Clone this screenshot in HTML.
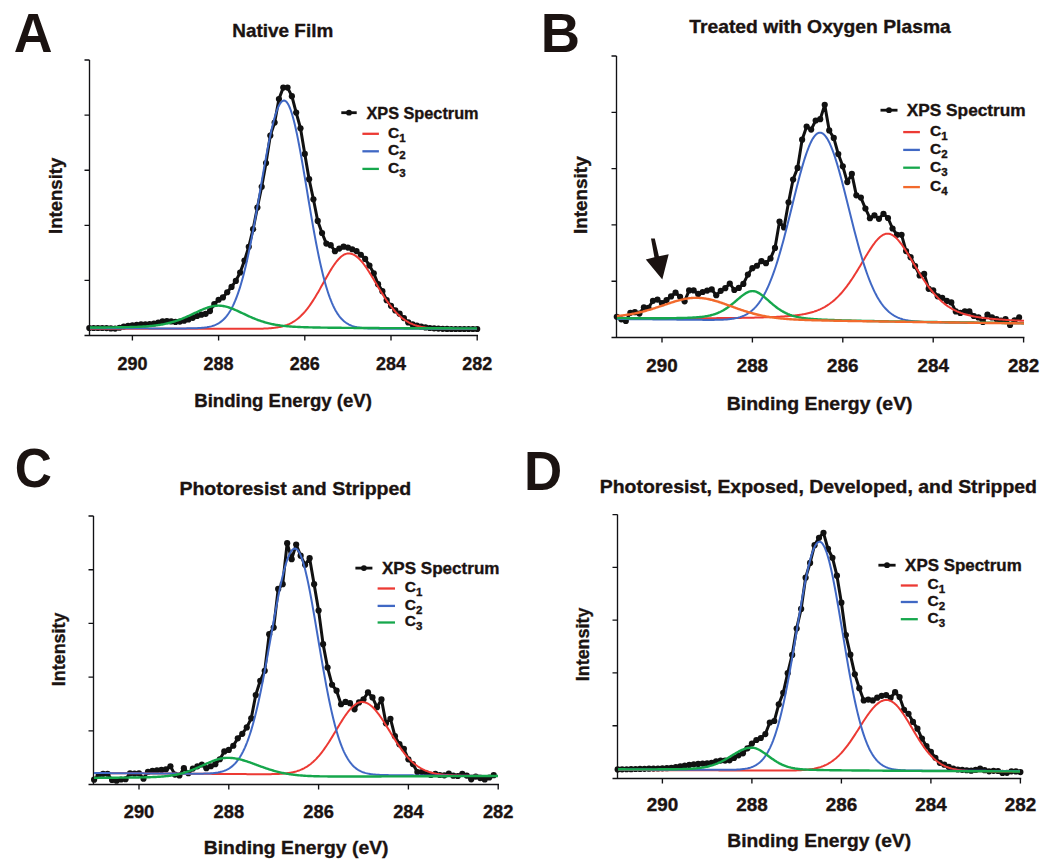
<!DOCTYPE html>
<html><head><meta charset="utf-8"><style>
html,body{margin:0;padding:0;background:#fff;}
svg{display:block;font-family:"Liberation Sans",sans-serif;}
</style></head><body>
<svg width="1050" height="865" viewBox="0 0 1050 865">
<rect width="1050" height="865" fill="#fff"/>
<text transform="translate(13.66 52) scale(0.9664 1)" font-size="55.6" fill="#1b1311" font-weight="bold">A</text>
<text x="232.37" y="37" textLength="100.86" lengthAdjust="spacingAndGlyphs" font-size="19" fill="#1b1311" stroke="#1b1311" stroke-width="0.35" font-weight="bold">Native Film</text>
<path d="M89.5 60V335.5" stroke="#111114" stroke-width="1.35" fill="none"/>
<path d="M84.5 335.5H478" stroke="#111114" stroke-width="1.35" fill="none"/>
<path d="M84.5 60H89.5M84.5 115.1H89.5M84.5 170.2H89.5M84.5 225.3H89.5M84.5 280.4H89.5M132.4 335.5V340.5M218.6 335.5V340.5M304.8 335.5V340.5M391 335.5V340.5M477.2 335.5V340.5" stroke="#111114" stroke-width="1.35" fill="none"/>
<text x="132.4" y="369.6" text-anchor="middle" textLength="30" lengthAdjust="spacingAndGlyphs" font-size="19" fill="#1b1311" stroke="#1b1311" stroke-width="0.35" font-weight="bold">290</text>
<text x="218.6" y="369.6" text-anchor="middle" textLength="30" lengthAdjust="spacingAndGlyphs" font-size="19" fill="#1b1311" stroke="#1b1311" stroke-width="0.35" font-weight="bold">288</text>
<text x="304.8" y="369.6" text-anchor="middle" textLength="30" lengthAdjust="spacingAndGlyphs" font-size="19" fill="#1b1311" stroke="#1b1311" stroke-width="0.35" font-weight="bold">286</text>
<text x="391" y="369.6" text-anchor="middle" textLength="30" lengthAdjust="spacingAndGlyphs" font-size="19" fill="#1b1311" stroke="#1b1311" stroke-width="0.35" font-weight="bold">284</text>
<text x="477.2" y="369.6" text-anchor="middle" textLength="30" lengthAdjust="spacingAndGlyphs" font-size="19" fill="#1b1311" stroke="#1b1311" stroke-width="0.35" font-weight="bold">282</text>
<text x="194.29" y="407" textLength="177.57" lengthAdjust="spacingAndGlyphs" font-size="18.8" fill="#1b1311" stroke="#1b1311" stroke-width="0.35" font-weight="bold">Binding Energy (eV)</text>
<text transform="translate(62 232.8) rotate(-90)" x="-1.21" y="0" textLength="76.34" lengthAdjust="spacingAndGlyphs" font-size="18.5" fill="#1b1311" stroke="#1b1311" stroke-width="0.35" font-weight="bold">Intensity</text>
<polyline points="89.3,328 93.61,328 97.92,328 102.23,328 106.54,328.07 110.85,328.39 115.16,328.6 119.47,327.77 123.78,326.57 128.09,325.84 132.4,325.23 136.71,324.77 141.02,324.47 145.33,324.25 149.64,323.98 153.95,323.48 158.26,322.48 162.57,321.47 166.88,321 171.19,321.38 175.5,321.88 179.81,321.6 184.12,320.63 188.43,319.45 192.74,317.83 197.05,315.99 201.36,314.69 205.67,313.81 209.98,311.04 214.29,304.07 218.6,299.74 222.91,297.44 227.22,292.24 231.53,286.92 235.84,280.91 240.15,272.52 244.46,260.62 248.77,246.81 253.08,229.22 257.39,207.57 261.7,186.81 266.01,163.04 270.32,135.53 274.63,122.55 278.94,99.06 283.25,87.6 287.56,87.6 291.87,96.17 296.18,112.57 300.49,128.27 304.8,153.9 309.11,179.21 313.42,199.3 317.73,220.97 322.04,233.01 326.35,243.62 330.66,245.16 334.97,251.2 339.28,248.58 343.59,246.72 347.9,247.61 352.21,249.24 356.52,251.04 360.83,254.75 365.14,258.94 369.45,265.57 373.76,273.27 378.07,284.16 382.38,291.14 386.69,300.19 391,305.86 395.31,310.45 399.62,313.71 403.93,318.09 408.24,322.43 412.55,324.42 416.86,325.72 421.17,326.7 425.48,327.47 429.79,327.98 434.1,328.32 438.41,328.61 442.72,328.83 447.03,328.97 451.34,329 455.65,329 459.96,329 464.27,329 468.58,329 472.89,329 477.2,329" fill="none" stroke="#111111" stroke-width="3.0" stroke-linejoin="round"/>
<g fill="#111111"><circle cx="89.3" cy="328" r="3.1"/><circle cx="93.61" cy="328" r="3.1"/><circle cx="97.92" cy="328" r="3.1"/><circle cx="102.23" cy="328" r="3.1"/><circle cx="106.54" cy="328.07" r="3.1"/><circle cx="110.85" cy="328.39" r="3.1"/><circle cx="115.16" cy="328.6" r="3.1"/><circle cx="119.47" cy="327.77" r="3.1"/><circle cx="123.78" cy="326.57" r="3.1"/><circle cx="128.09" cy="325.84" r="3.1"/><circle cx="132.4" cy="325.23" r="3.1"/><circle cx="136.71" cy="324.77" r="3.1"/><circle cx="141.02" cy="324.47" r="3.1"/><circle cx="145.33" cy="324.25" r="3.1"/><circle cx="149.64" cy="323.98" r="3.1"/><circle cx="153.95" cy="323.48" r="3.1"/><circle cx="158.26" cy="322.48" r="3.1"/><circle cx="162.57" cy="321.47" r="3.1"/><circle cx="166.88" cy="321" r="3.1"/><circle cx="171.19" cy="321.38" r="3.1"/><circle cx="175.5" cy="321.88" r="3.1"/><circle cx="179.81" cy="321.6" r="3.1"/><circle cx="184.12" cy="320.63" r="3.1"/><circle cx="188.43" cy="319.45" r="3.1"/><circle cx="192.74" cy="317.83" r="3.1"/><circle cx="197.05" cy="315.99" r="3.1"/><circle cx="201.36" cy="314.69" r="3.1"/><circle cx="205.67" cy="313.81" r="3.1"/><circle cx="209.98" cy="311.04" r="3.1"/><circle cx="214.29" cy="304.07" r="3.1"/><circle cx="218.6" cy="299.74" r="3.1"/><circle cx="222.91" cy="297.44" r="3.1"/><circle cx="227.22" cy="292.24" r="3.1"/><circle cx="231.53" cy="286.92" r="3.1"/><circle cx="235.84" cy="280.91" r="3.1"/><circle cx="240.15" cy="272.52" r="3.1"/><circle cx="244.46" cy="260.62" r="3.1"/><circle cx="248.77" cy="246.81" r="3.1"/><circle cx="253.08" cy="229.22" r="3.1"/><circle cx="257.39" cy="207.57" r="3.1"/><circle cx="261.7" cy="186.81" r="3.1"/><circle cx="266.01" cy="163.04" r="3.1"/><circle cx="270.32" cy="135.53" r="3.1"/><circle cx="274.63" cy="122.55" r="3.1"/><circle cx="278.94" cy="99.06" r="3.1"/><circle cx="283.25" cy="87.6" r="3.1"/><circle cx="287.56" cy="87.6" r="3.1"/><circle cx="291.87" cy="96.17" r="3.1"/><circle cx="296.18" cy="112.57" r="3.1"/><circle cx="300.49" cy="128.27" r="3.1"/><circle cx="304.8" cy="153.9" r="3.1"/><circle cx="309.11" cy="179.21" r="3.1"/><circle cx="313.42" cy="199.3" r="3.1"/><circle cx="317.73" cy="220.97" r="3.1"/><circle cx="322.04" cy="233.01" r="3.1"/><circle cx="326.35" cy="243.62" r="3.1"/><circle cx="330.66" cy="245.16" r="3.1"/><circle cx="334.97" cy="251.2" r="3.1"/><circle cx="339.28" cy="248.58" r="3.1"/><circle cx="343.59" cy="246.72" r="3.1"/><circle cx="347.9" cy="247.61" r="3.1"/><circle cx="352.21" cy="249.24" r="3.1"/><circle cx="356.52" cy="251.04" r="3.1"/><circle cx="360.83" cy="254.75" r="3.1"/><circle cx="365.14" cy="258.94" r="3.1"/><circle cx="369.45" cy="265.57" r="3.1"/><circle cx="373.76" cy="273.27" r="3.1"/><circle cx="378.07" cy="284.16" r="3.1"/><circle cx="382.38" cy="291.14" r="3.1"/><circle cx="386.69" cy="300.19" r="3.1"/><circle cx="391" cy="305.86" r="3.1"/><circle cx="395.31" cy="310.45" r="3.1"/><circle cx="399.62" cy="313.71" r="3.1"/><circle cx="403.93" cy="318.09" r="3.1"/><circle cx="408.24" cy="322.43" r="3.1"/><circle cx="412.55" cy="324.42" r="3.1"/><circle cx="416.86" cy="325.72" r="3.1"/><circle cx="421.17" cy="326.7" r="3.1"/><circle cx="425.48" cy="327.47" r="3.1"/><circle cx="429.79" cy="327.98" r="3.1"/><circle cx="434.1" cy="328.32" r="3.1"/><circle cx="438.41" cy="328.61" r="3.1"/><circle cx="442.72" cy="328.83" r="3.1"/><circle cx="447.03" cy="328.97" r="3.1"/><circle cx="451.34" cy="329" r="3.1"/><circle cx="455.65" cy="329" r="3.1"/><circle cx="459.96" cy="329" r="3.1"/><circle cx="464.27" cy="329" r="3.1"/><circle cx="468.58" cy="329" r="3.1"/><circle cx="472.89" cy="329" r="3.1"/><circle cx="477.2" cy="329" r="3.1"/></g>
<polyline points="90,328.8 91,328.8 92,328.8 93,328.8 94,328.8 95,328.8 96,328.8 97,328.8 98,328.8 99,328.8 100,328.81 101,328.81 102,328.81 103,328.81 104,328.81 105,328.81 106,328.81 107,328.81 108,328.81 109,328.81 110,328.81 111,328.81 112,328.81 113,328.81 114,328.81 115,328.81 116,328.81 117,328.81 118,328.81 119,328.81 120,328.82 121,328.82 122,328.82 123,328.82 124,328.82 125,328.82 126,328.82 127,328.82 128,328.82 129,328.82 130,328.82 131,328.82 132,328.82 133,328.82 134,328.82 135,328.82 136,328.82 137,328.82 138,328.82 139,328.83 140,328.83 141,328.83 142,328.83 143,328.83 144,328.83 145,328.83 146,328.83 147,328.83 148,328.83 149,328.83 150,328.83 151,328.83 152,328.83 153,328.83 154,328.83 155,328.83 156,328.83 157,328.83 158,328.84 159,328.84 160,328.84 161,328.84 162,328.84 163,328.84 164,328.84 165,328.84 166,328.84 167,328.84 168,328.84 169,328.84 170,328.84 171,328.84 172,328.84 173,328.84 174,328.84 175,328.84 176,328.84 177,328.84 178,328.85 179,328.85 180,328.85 181,328.85 182,328.85 183,328.85 184,328.85 185,328.85 186,328.85 187,328.85 188,328.85 189,328.85 190,328.85 191,328.85 192,328.85 193,328.85 194,328.85 195,328.85 196,328.85 197,328.86 198,328.86 199,328.86 200,328.86 201,328.86 202,328.86 203,328.86 204,328.86 205,328.86 206,328.86 207,328.86 208,328.86 209,328.86 210,328.86 211,328.86 212,328.86 213,328.86 214,328.86 215,328.86 216,328.87 217,328.87 218,328.87 219,328.87 220,328.87 221,328.87 222,328.87 223,328.87 224,328.87 225,328.87 226,328.87 227,328.87 228,328.87 229,328.87 230,328.87 231,328.87 232,328.87 233,328.87 234,328.87 235,328.87 236,328.87 237,328.87 238,328.87 239,328.87 240,328.87 241,328.87 242,328.87 243,328.87 244,328.86 245,328.86 246,328.86 247,328.85 248,328.85 249,328.85 250,328.84 251,328.83 252,328.83 253,328.82 254,328.81 255,328.8 256,328.78 257,328.77 258,328.75 259,328.73 260,328.71 261,328.69 262,328.66 263,328.63 264,328.59 265,328.55 266,328.5 267,328.45 268,328.39 269,328.33 270,328.25 271,328.17 272,328.08 273,327.98 274,327.87 275,327.74 276,327.61 277,327.46 278,327.29 279,327.11 280,326.91 281,326.69 282,326.45 283,326.18 284,325.9 285,325.58 286,325.25 287,324.88 288,324.48 289,324.05 290,323.59 291,323.09 292,322.56 293,321.98 294,321.37 295,320.71 296,320.01 297,319.27 298,318.48 299,317.64 300,316.76 301,315.82 302,314.83 303,313.8 304,312.71 305,311.57 306,310.37 307,309.13 308,307.83 309,306.49 310,305.09 311,303.65 312,302.16 313,300.62 314,299.05 315,297.43 316,295.78 317,294.1 318,292.38 319,290.64 320,288.88 321,287.11 322,285.32 323,283.52 324,281.73 325,279.94 326,278.15 327,276.39 328,274.64 329,272.93 330,271.25 331,269.61 332,268.02 333,266.48 334,265 335,263.59 336,262.25 337,260.98 338,259.8 339,258.71 340,257.7 341,256.8 342,256 343,255.3 344,254.7 345,254.22 346,253.86 347,253.6 348,253.46 349,253.44 350,253.52 351,253.7 352,253.99 353,254.37 354,254.86 355,255.44 356,256.11 357,256.88 358,257.73 359,258.67 360,259.69 361,260.79 362,261.96 363,263.2 364,264.51 365,265.87 366,267.29 367,268.76 368,270.27 369,271.82 370,273.41 371,275.02 372,276.66 373,278.32 374,279.99 375,281.67 376,283.36 377,285.04 378,286.72 379,288.39 380,290.05 381,291.69 382,293.31 383,294.9 384,296.47 385,298.01 386,299.51 387,300.98 388,302.41 389,303.81 390,305.16 391,306.47 392,307.73 393,308.96 394,310.13 395,311.27 396,312.35 397,313.39 398,314.39 399,315.34 400,316.25 401,317.11 402,317.93 403,318.7 404,319.44 405,320.13 406,320.78 407,321.4 408,321.98 409,322.52 410,323.03 411,323.51 412,323.95 413,324.37 414,324.76 415,325.12 416,325.45 417,325.76 418,326.04 419,326.31 420,326.55 421,326.78 422,326.98 423,327.17 424,327.35 425,327.51 426,327.65 427,327.78 428,327.9 429,328.01 430,328.11 431,328.21 432,328.29 433,328.36 434,328.43 435,328.49 436,328.54 437,328.59 438,328.64 439,328.68 440,328.71 441,328.75 442,328.77 443,328.8 444,328.82 445,328.84 446,328.86 447,328.88 448,328.89 449,328.9 450,328.91 451,328.92 452,328.93 453,328.94 454,328.95 455,328.95 456,328.96 457,328.96 458,328.97 459,328.97 460,328.97 461,328.98 462,328.98 463,328.98 464,328.98 465,328.99 466,328.99 467,328.99 468,328.99 469,328.99 470,328.99 471,328.99 472,328.99 473,329 474,329 475,329 476,329 477,329" fill="none" stroke="#ec3a34" stroke-width="2.0" stroke-linejoin="round"/>
<polyline points="90,328.3 91,328.3 92,328.3 93,328.3 94,328.31 95,328.31 96,328.31 97,328.31 98,328.31 99,328.31 100,328.31 101,328.31 102,328.32 103,328.32 104,328.32 105,328.32 106,328.32 107,328.32 108,328.32 109,328.32 110,328.33 111,328.33 112,328.33 113,328.33 114,328.33 115,328.33 116,328.33 117,328.33 118,328.34 119,328.34 120,328.34 121,328.34 122,328.34 123,328.34 124,328.34 125,328.35 126,328.35 127,328.35 128,328.35 129,328.35 130,328.35 131,328.35 132,328.35 133,328.36 134,328.36 135,328.36 136,328.36 137,328.36 138,328.36 139,328.36 140,328.36 141,328.37 142,328.37 143,328.37 144,328.37 145,328.37 146,328.37 147,328.37 148,328.37 149,328.38 150,328.38 151,328.38 152,328.38 153,328.38 154,328.38 155,328.38 156,328.39 157,328.39 158,328.39 159,328.39 160,328.39 161,328.39 162,328.39 163,328.39 164,328.39 165,328.4 166,328.4 167,328.4 168,328.4 169,328.4 170,328.4 171,328.4 172,328.4 173,328.4 174,328.4 175,328.4 176,328.4 177,328.4 178,328.4 179,328.4 180,328.4 181,328.4 182,328.4 183,328.39 184,328.39 185,328.38 186,328.38 187,328.37 188,328.36 189,328.35 190,328.34 191,328.32 192,328.3 193,328.28 194,328.26 195,328.23 196,328.19 197,328.16 198,328.11 199,328.06 200,328 201,327.93 202,327.85 203,327.76 204,327.65 205,327.53 206,327.4 207,327.25 208,327.07 209,326.88 210,326.65 211,326.41 212,326.13 213,325.81 214,325.46 215,325.07 216,324.64 217,324.16 218,323.62 219,323.03 220,322.37 221,321.65 222,320.85 223,319.98 224,319.02 225,317.97 226,316.83 227,315.58 228,314.23 229,312.76 230,311.17 231,309.46 232,307.61 233,305.62 234,303.48 235,301.2 236,298.75 237,296.15 238,293.38 239,290.44 240,287.32 241,284.03 242,280.57 243,276.92 244,273.09 245,269.08 246,264.9 247,260.54 248,256.01 249,251.31 250,246.46 251,241.45 252,236.3 253,231.02 254,225.62 255,220.12 256,214.51 257,208.84 258,203.1 259,197.31 260,191.5 261,185.69 262,179.9 263,174.14 264,168.44 265,162.83 266,157.32 267,151.94 268,146.71 269,141.66 270,136.81 271,132.18 272,127.79 273,123.67 274,119.83 275,116.3 276,113.08 277,110.21 278,107.69 279,105.53 280,103.75 281,102.35 282,101.35 283,100.75 284,100.55 285,100.77 286,101.42 287,102.5 288,104 289,105.91 290,108.23 291,110.94 292,114.02 293,117.46 294,121.24 295,125.34 296,129.74 297,134.41 298,139.33 299,144.48 300,149.83 301,155.35 302,161.02 303,166.82 304,172.71 305,178.67 306,184.67 307,190.7 308,196.73 309,202.73 310,208.69 311,214.59 312,220.4 313,226.1 314,231.7 315,237.16 316,242.47 317,247.64 318,252.64 319,257.46 320,262.11 321,266.56 322,270.84 323,274.92 324,278.8 325,282.49 326,285.99 327,289.3 328,292.43 329,295.36 330,298.12 331,300.7 332,303.11 333,305.36 334,307.45 335,309.39 336,311.19 337,312.84 338,314.37 339,315.77 340,317.06 341,318.24 342,319.32 343,320.3 344,321.19 345,322 346,322.73 347,323.4 348,323.99 349,324.53 350,325.01 351,325.44 352,325.83 353,326.17 354,326.48 355,326.75 356,326.99 357,327.21 358,327.4 359,327.56 360,327.71 361,327.84 362,327.95 363,328.05 364,328.14 365,328.21 366,328.28 367,328.33 368,328.38 369,328.42 370,328.46 371,328.49 372,328.52 373,328.54 374,328.56 375,328.58 376,328.6 377,328.61 378,328.62 379,328.63 380,328.64 381,328.65 382,328.65 383,328.66 384,328.66 385,328.67 386,328.67 387,328.67 388,328.68 389,328.68 390,328.68 391,328.68 392,328.69 393,328.69 394,328.69 395,328.69 396,328.69 397,328.7 398,328.7 399,328.7 400,328.7 401,328.7 402,328.7 403,328.7 404,328.71 405,328.71 406,328.71 407,328.71 408,328.71 409,328.71 410,328.71 411,328.71 412,328.72 413,328.72 414,328.72 415,328.72 416,328.72 417,328.72 418,328.72 419,328.73 420,328.73 421,328.73 422,328.73 423,328.73 424,328.73 425,328.73 426,328.73 427,328.74 428,328.74 429,328.74 430,328.74 431,328.74 432,328.74 433,328.74 434,328.74 435,328.75 436,328.75 437,328.75 438,328.75 439,328.75 440,328.75 441,328.75 442,328.75 443,328.76 444,328.76 445,328.76 446,328.76 447,328.76 448,328.76 449,328.76 450,328.77 451,328.77 452,328.77 453,328.77 454,328.77 455,328.77 456,328.77 457,328.77 458,328.78 459,328.78 460,328.78 461,328.78 462,328.78 463,328.78 464,328.78 465,328.78 466,328.79 467,328.79 468,328.79 469,328.79 470,328.79 471,328.79 472,328.79 473,328.79 474,328.8 475,328.8 476,328.8 477,328.8" fill="none" stroke="#4068c4" stroke-width="2.0" stroke-linejoin="round"/>
<polyline points="90,327.54 91,327.53 92,327.53 93,327.52 94,327.52 95,327.51 96,327.5 97,327.5 98,327.49 99,327.48 100,327.48 101,327.47 102,327.46 103,327.45 104,327.45 105,327.44 106,327.43 107,327.42 108,327.41 109,327.4 110,327.39 111,327.38 112,327.37 113,327.36 114,327.35 115,327.33 116,327.32 117,327.31 118,327.3 119,327.28 120,327.27 121,327.25 122,327.23 123,327.22 124,327.2 125,327.18 126,327.16 127,327.14 128,327.12 129,327.09 130,327.07 131,327.04 132,327.01 133,326.98 134,326.95 135,326.92 136,326.88 137,326.85 138,326.81 139,326.76 140,326.72 141,326.67 142,326.62 143,326.56 144,326.5 145,326.44 146,326.37 147,326.3 148,326.22 149,326.14 150,326.06 151,325.96 152,325.87 153,325.76 154,325.65 155,325.53 156,325.41 157,325.28 158,325.14 159,324.99 160,324.83 161,324.67 162,324.5 163,324.31 164,324.12 165,323.91 166,323.7 167,323.48 168,323.24 169,323 170,322.74 171,322.47 172,322.19 173,321.9 174,321.6 175,321.28 176,320.96 177,320.62 178,320.27 179,319.91 180,319.54 181,319.15 182,318.76 183,318.36 184,317.95 185,317.52 186,317.09 187,316.65 188,316.21 189,315.76 190,315.3 191,314.84 192,314.37 193,313.9 194,313.43 195,312.96 196,312.49 197,312.02 198,311.55 199,311.09 200,310.64 201,310.19 202,309.76 203,309.34 204,308.93 205,308.54 206,308.16 207,307.8 208,307.47 209,307.16 210,306.87 211,306.61 212,306.38 213,306.18 214,306.01 215,305.88 216,305.77 217,305.7 218,305.67 219,305.67 220,305.71 221,305.78 222,305.88 223,306.02 224,306.2 225,306.4 226,306.63 227,306.89 228,307.18 229,307.5 230,307.83 231,308.19 232,308.57 233,308.97 234,309.38 235,309.8 236,310.24 237,310.69 238,311.14 239,311.6 240,312.07 241,312.54 242,313.02 243,313.49 244,313.96 245,314.44 246,314.91 247,315.37 248,315.83 249,316.29 250,316.74 251,317.18 252,317.61 253,318.03 254,318.45 255,318.86 256,319.25 257,319.64 258,320.01 259,320.37 260,320.73 261,321.07 262,321.39 263,321.71 264,322.02 265,322.31 266,322.59 267,322.86 268,323.12 269,323.37 270,323.61 271,323.84 272,324.05 273,324.26 274,324.45 275,324.64 276,324.82 277,324.99 278,325.14 279,325.3 280,325.44 281,325.57 282,325.7 283,325.82 284,325.93 285,326.04 286,326.14 287,326.23 288,326.32 289,326.41 290,326.48 291,326.56 292,326.63 293,326.69 294,326.76 295,326.81 296,326.87 297,326.92 298,326.97 299,327.01 300,327.06 301,327.1 302,327.13 303,327.17 304,327.21 305,327.24 306,327.27 307,327.3 308,327.32 309,327.35 310,327.38 311,327.4 312,327.42 313,327.44 314,327.46 315,327.48 316,327.5 317,327.52 318,327.54 319,327.56 320,327.57 321,327.59 322,327.6 323,327.62 324,327.63 325,327.64 326,327.66 327,327.67 328,327.68 329,327.7 330,327.71 331,327.72 332,327.73 333,327.74 334,327.75 335,327.76 336,327.77 337,327.78 338,327.79 339,327.8 340,327.81 341,327.82 342,327.83 343,327.84 344,327.85 345,327.86 346,327.86 347,327.87 348,327.88 349,327.89 350,327.9 351,327.9 352,327.91 353,327.92 354,327.93 355,327.93 356,327.94 357,327.95 358,327.95 359,327.96 360,327.97 361,327.97 362,327.98 363,327.98 364,327.99 365,328 366,328 367,328.01 368,328.01 369,328.02 370,328.03 371,328.03 372,328.04 373,328.04 374,328.05 375,328.05 376,328.06 377,328.06 378,328.07 379,328.07 380,328.08 381,328.08 382,328.09 383,328.09 384,328.1 385,328.1 386,328.11 387,328.11 388,328.11 389,328.12 390,328.12 391,328.13 392,328.13 393,328.14 394,328.14 395,328.14 396,328.15 397,328.15 398,328.16 399,328.16 400,328.16 401,328.17 402,328.17 403,328.17 404,328.18 405,328.18 406,328.19 407,328.19 408,328.19 409,328.2 410,328.2 411,328.2 412,328.21 413,328.21 414,328.21 415,328.22 416,328.22 417,328.22 418,328.23 419,328.23 420,328.23 421,328.24 422,328.24 423,328.24 424,328.25 425,328.25 426,328.25 427,328.25 428,328.26 429,328.26 430,328.26 431,328.27 432,328.27 433,328.27 434,328.27 435,328.28 436,328.28 437,328.28 438,328.29 439,328.29 440,328.29 441,328.29 442,328.3 443,328.3 444,328.3 445,328.3 446,328.31 447,328.31 448,328.31 449,328.31 450,328.32 451,328.32 452,328.32 453,328.33 454,328.33 455,328.33 456,328.33 457,328.33 458,328.34 459,328.34 460,328.34 461,328.34 462,328.35 463,328.35 464,328.35 465,328.35 466,328.36 467,328.36 468,328.36 469,328.36 470,328.37 471,328.37 472,328.37 473,328.37 474,328.37 475,328.38 476,328.38 477,328.38" fill="none" stroke="#16a74c" stroke-width="2.4" stroke-linejoin="round"/>
<path d="M341.3 112.7H356.7" stroke="#111111" stroke-width="2.8"/><circle cx="349" cy="112.7" r="2.9" fill="#111111"/>
<text x="366.44" y="118.9" textLength="112.14" lengthAdjust="spacingAndGlyphs" font-size="16.5" fill="#1b1311" stroke="#1b1311" stroke-width="0.35" font-weight="bold">XPS Spectrum</text>
<path d="M362.4 133.8H378.9" stroke="#ec3a34" stroke-width="2.3"/>
<text x="388" y="137.7" font-size="15.5" fill="#1b1311" stroke="#1b1311" stroke-width="0.35" font-weight="bold">C<tspan dy="4.0" font-size="11.5">1</tspan></text>
<path d="M362.4 151.3H378.9" stroke="#4068c4" stroke-width="2.3"/>
<text x="388" y="155.2" font-size="15.5" fill="#1b1311" stroke="#1b1311" stroke-width="0.35" font-weight="bold">C<tspan dy="4.0" font-size="11.5">2</tspan></text>
<path d="M362.4 168.9H378.9" stroke="#16a74c" stroke-width="2.3"/>
<text x="388" y="172.8" font-size="15.5" fill="#1b1311" stroke="#1b1311" stroke-width="0.35" font-weight="bold">C<tspan dy="4.0" font-size="11.5">3</tspan></text>
<text transform="translate(540.73 52.4) scale(0.9719 1)" font-size="56" fill="#1b1311" font-weight="bold">B</text>
<text x="689.21" y="32.6" textLength="261.62" lengthAdjust="spacingAndGlyphs" font-size="19" fill="#1b1311" stroke="#1b1311" stroke-width="0.35" font-weight="bold">Treated with Oxygen Plasma</text>
<path d="M616.5 56V337.5" stroke="#111114" stroke-width="1.35" fill="none"/>
<path d="M611.5 337.5H1024.4" stroke="#111114" stroke-width="1.35" fill="none"/>
<path d="M611.5 56H616.5M611.5 112.3H616.5M611.5 168.6H616.5M611.5 224.9H616.5M611.5 281.2H616.5M662 337.5V342.5M752.4 337.5V342.5M842.8 337.5V342.5M933.2 337.5V342.5M1023.6 337.5V342.5" stroke="#111114" stroke-width="1.35" fill="none"/>
<text x="662" y="372" text-anchor="middle" textLength="31.4" lengthAdjust="spacingAndGlyphs" font-size="19" fill="#1b1311" stroke="#1b1311" stroke-width="0.35" font-weight="bold">290</text>
<text x="752.4" y="372" text-anchor="middle" textLength="31.4" lengthAdjust="spacingAndGlyphs" font-size="19" fill="#1b1311" stroke="#1b1311" stroke-width="0.35" font-weight="bold">288</text>
<text x="842.8" y="372" text-anchor="middle" textLength="31.4" lengthAdjust="spacingAndGlyphs" font-size="19" fill="#1b1311" stroke="#1b1311" stroke-width="0.35" font-weight="bold">286</text>
<text x="933.2" y="372" text-anchor="middle" textLength="31.4" lengthAdjust="spacingAndGlyphs" font-size="19" fill="#1b1311" stroke="#1b1311" stroke-width="0.35" font-weight="bold">284</text>
<text x="1023.6" y="372" text-anchor="middle" textLength="31.4" lengthAdjust="spacingAndGlyphs" font-size="19" fill="#1b1311" stroke="#1b1311" stroke-width="0.35" font-weight="bold">282</text>
<text x="726.74" y="410" textLength="185.87" lengthAdjust="spacingAndGlyphs" font-size="18.8" fill="#1b1311" stroke="#1b1311" stroke-width="0.35" font-weight="bold">Binding Energy (eV)</text>
<text transform="translate(587.3 232.8) rotate(-90)" x="-1.23" y="0" textLength="77.66" lengthAdjust="spacingAndGlyphs" font-size="18.5" fill="#1b1311" stroke="#1b1311" stroke-width="0.35" font-weight="bold">Intensity</text>
<polyline points="616.8,316.76 621.32,319.31 625.84,320.93 630.36,312.82 634.88,312.18 639.4,313.58 643.92,307.33 648.44,307.8 652.96,300.79 657.48,299.62 662,303.19 666.52,300.03 671.04,296.4 675.56,292.72 680.08,296.79 684.6,301.34 689.12,290.41 693.64,290.43 698.16,293.9 702.68,292.01 707.2,290.53 711.72,289.44 716.24,295.27 720.76,290.81 725.28,288.13 729.8,283.51 734.32,289.99 738.84,287.92 743.36,283.92 747.88,274.53 752.4,268.18 756.92,265.75 761.44,261.1 765.96,263.15 770.48,258.43 775,247.96 779.52,221.6 784.04,227.52 788.56,202.24 793.08,179.48 797.6,167.9 802.12,139.66 806.64,126.61 811.16,129.57 815.68,120.51 820.2,119.21 824.72,104.87 829.24,130.46 833.76,137.92 838.28,154.05 842.8,166.33 847.32,182.08 851.84,173.88 856.36,195.34 860.88,197.57 865.4,208.48 869.92,218.24 874.44,215.33 878.96,218.87 883.48,213.84 888,218.02 892.52,228.48 897.04,234.79 901.56,234.8 906.08,251.04 910.6,257.14 915.12,266.04 919.64,275.38 924.16,273.9 928.68,288.8 933.2,290.35 937.72,296.35 942.24,297.87 946.76,300.88 951.28,302.39 955.8,311.4 960.32,312.9 964.84,311.4 969.36,311.4 973.88,315.99 978.4,317.4 982.92,322 987.44,314.5 991.96,317.43 996.48,319.03 1001,320.5 1005.52,319.01 1010.04,324.99 1014.56,320.45 1019.08,317.4" fill="none" stroke="#111111" stroke-width="3.0" stroke-linejoin="round"/>
<g fill="#111111"><circle cx="616.8" cy="316.76" r="3.1"/><circle cx="621.32" cy="319.31" r="3.1"/><circle cx="625.84" cy="320.93" r="3.1"/><circle cx="630.36" cy="312.82" r="3.1"/><circle cx="634.88" cy="312.18" r="3.1"/><circle cx="639.4" cy="313.58" r="3.1"/><circle cx="643.92" cy="307.33" r="3.1"/><circle cx="648.44" cy="307.8" r="3.1"/><circle cx="652.96" cy="300.79" r="3.1"/><circle cx="657.48" cy="299.62" r="3.1"/><circle cx="662" cy="303.19" r="3.1"/><circle cx="666.52" cy="300.03" r="3.1"/><circle cx="671.04" cy="296.4" r="3.1"/><circle cx="675.56" cy="292.72" r="3.1"/><circle cx="680.08" cy="296.79" r="3.1"/><circle cx="684.6" cy="301.34" r="3.1"/><circle cx="689.12" cy="290.41" r="3.1"/><circle cx="693.64" cy="290.43" r="3.1"/><circle cx="698.16" cy="293.9" r="3.1"/><circle cx="702.68" cy="292.01" r="3.1"/><circle cx="707.2" cy="290.53" r="3.1"/><circle cx="711.72" cy="289.44" r="3.1"/><circle cx="716.24" cy="295.27" r="3.1"/><circle cx="720.76" cy="290.81" r="3.1"/><circle cx="725.28" cy="288.13" r="3.1"/><circle cx="729.8" cy="283.51" r="3.1"/><circle cx="734.32" cy="289.99" r="3.1"/><circle cx="738.84" cy="287.92" r="3.1"/><circle cx="743.36" cy="283.92" r="3.1"/><circle cx="747.88" cy="274.53" r="3.1"/><circle cx="752.4" cy="268.18" r="3.1"/><circle cx="756.92" cy="265.75" r="3.1"/><circle cx="761.44" cy="261.1" r="3.1"/><circle cx="765.96" cy="263.15" r="3.1"/><circle cx="770.48" cy="258.43" r="3.1"/><circle cx="775" cy="247.96" r="3.1"/><circle cx="779.52" cy="221.6" r="3.1"/><circle cx="784.04" cy="227.52" r="3.1"/><circle cx="788.56" cy="202.24" r="3.1"/><circle cx="793.08" cy="179.48" r="3.1"/><circle cx="797.6" cy="167.9" r="3.1"/><circle cx="802.12" cy="139.66" r="3.1"/><circle cx="806.64" cy="126.61" r="3.1"/><circle cx="811.16" cy="129.57" r="3.1"/><circle cx="815.68" cy="120.51" r="3.1"/><circle cx="820.2" cy="119.21" r="3.1"/><circle cx="824.72" cy="104.87" r="3.1"/><circle cx="829.24" cy="130.46" r="3.1"/><circle cx="833.76" cy="137.92" r="3.1"/><circle cx="838.28" cy="154.05" r="3.1"/><circle cx="842.8" cy="166.33" r="3.1"/><circle cx="847.32" cy="182.08" r="3.1"/><circle cx="851.84" cy="173.88" r="3.1"/><circle cx="856.36" cy="195.34" r="3.1"/><circle cx="860.88" cy="197.57" r="3.1"/><circle cx="865.4" cy="208.48" r="3.1"/><circle cx="869.92" cy="218.24" r="3.1"/><circle cx="874.44" cy="215.33" r="3.1"/><circle cx="878.96" cy="218.87" r="3.1"/><circle cx="883.48" cy="213.84" r="3.1"/><circle cx="888" cy="218.02" r="3.1"/><circle cx="892.52" cy="228.48" r="3.1"/><circle cx="897.04" cy="234.79" r="3.1"/><circle cx="901.56" cy="234.8" r="3.1"/><circle cx="906.08" cy="251.04" r="3.1"/><circle cx="910.6" cy="257.14" r="3.1"/><circle cx="915.12" cy="266.04" r="3.1"/><circle cx="919.64" cy="275.38" r="3.1"/><circle cx="924.16" cy="273.9" r="3.1"/><circle cx="928.68" cy="288.8" r="3.1"/><circle cx="933.2" cy="290.35" r="3.1"/><circle cx="937.72" cy="296.35" r="3.1"/><circle cx="942.24" cy="297.87" r="3.1"/><circle cx="946.76" cy="300.88" r="3.1"/><circle cx="951.28" cy="302.39" r="3.1"/><circle cx="955.8" cy="311.4" r="3.1"/><circle cx="960.32" cy="312.9" r="3.1"/><circle cx="964.84" cy="311.4" r="3.1"/><circle cx="969.36" cy="311.4" r="3.1"/><circle cx="973.88" cy="315.99" r="3.1"/><circle cx="978.4" cy="317.4" r="3.1"/><circle cx="982.92" cy="322" r="3.1"/><circle cx="987.44" cy="314.5" r="3.1"/><circle cx="991.96" cy="317.43" r="3.1"/><circle cx="996.48" cy="319.03" r="3.1"/><circle cx="1001" cy="320.5" r="3.1"/><circle cx="1005.52" cy="319.01" r="3.1"/><circle cx="1010.04" cy="324.99" r="3.1"/><circle cx="1014.56" cy="320.45" r="3.1"/><circle cx="1019.08" cy="317.4" r="3.1"/></g>
<polyline points="617,317.87 618,317.87 619,317.88 620,317.89 621,317.89 622,317.9 623,317.91 624,317.92 625,317.92 626,317.93 627,317.94 628,317.94 629,317.95 630,317.96 631,317.96 632,317.97 633,317.97 634,317.98 635,317.99 636,317.99 637,318 638,318.01 639,318.01 640,318.02 641,318.02 642,318.03 643,318.03 644,318.04 645,318.05 646,318.05 647,318.06 648,318.06 649,318.07 650,318.07 651,318.08 652,318.08 653,318.09 654,318.09 655,318.1 656,318.1 657,318.1 658,318.11 659,318.11 660,318.12 661,318.12 662,318.13 663,318.13 664,318.13 665,318.14 666,318.14 667,318.14 668,318.15 669,318.15 670,318.15 671,318.16 672,318.16 673,318.16 674,318.17 675,318.17 676,318.17 677,318.17 678,318.17 679,318.18 680,318.18 681,318.18 682,318.18 683,318.18 684,318.18 685,318.19 686,318.19 687,318.19 688,318.19 689,318.19 690,318.19 691,318.19 692,318.19 693,318.19 694,318.19 695,318.19 696,318.19 697,318.19 698,318.19 699,318.18 700,318.18 701,318.18 702,318.18 703,318.18 704,318.18 705,318.17 706,318.17 707,318.17 708,318.16 709,318.16 710,318.16 711,318.15 712,318.15 713,318.14 714,318.14 715,318.13 716,318.13 717,318.12 718,318.12 719,318.11 720,318.1 721,318.1 722,318.09 723,318.08 724,318.08 725,318.07 726,318.06 727,318.05 728,318.04 729,318.03 730,318.02 731,318.01 732,318 733,317.99 734,317.98 735,317.97 736,317.95 737,317.94 738,317.93 739,317.91 740,317.9 741,317.88 742,317.87 743,317.85 744,317.84 745,317.82 746,317.8 747,317.78 748,317.77 749,317.75 750,317.73 751,317.7 752,317.68 753,317.66 754,317.64 755,317.62 756,317.59 757,317.57 758,317.54 759,317.51 760,317.49 761,317.46 762,317.43 763,317.4 764,317.36 765,317.33 766,317.3 767,317.26 768,317.23 769,317.19 770,317.15 771,317.11 772,317.07 773,317.03 774,316.98 775,316.93 776,316.89 777,316.84 778,316.78 779,316.73 780,316.67 781,316.61 782,316.55 783,316.49 784,316.42 785,316.35 786,316.28 787,316.2 788,316.12 789,316.04 790,315.95 791,315.86 792,315.76 793,315.66 794,315.56 795,315.44 796,315.33 797,315.2 798,315.07 799,314.93 800,314.79 801,314.63 802,314.47 803,314.3 804,314.12 805,313.92 806,313.72 807,313.51 808,313.28 809,313.04 810,312.79 811,312.52 812,312.24 813,311.94 814,311.63 815,311.29 816,310.94 817,310.57 818,310.18 819,309.76 820,309.33 821,308.87 822,308.39 823,307.88 824,307.35 825,306.79 826,306.2 827,305.58 828,304.93 829,304.26 830,303.55 831,302.8 832,302.03 833,301.22 834,300.38 835,299.5 836,298.58 837,297.63 838,296.64 839,295.62 840,294.56 841,293.46 842,292.32 843,291.14 844,289.93 845,288.68 846,287.4 847,286.07 848,284.72 849,283.33 850,281.9 851,280.44 852,278.96 853,277.44 854,275.89 855,274.32 856,272.73 857,271.11 858,269.48 859,267.82 860,266.16 861,264.49 862,262.81 863,261.12 864,259.44 865,257.77 866,256.1 867,254.45 868,252.82 869,251.22 870,249.65 871,248.12 872,246.63 873,245.18 874,243.8 875,242.48 876,241.22 877,240.05 878,238.95 879,237.95 880,237.04 881,236.22 882,235.52 883,234.92 884,234.44 885,234.07 886,233.83 887,233.71 888,233.71 889,233.82 890,234.06 891,234.42 892,234.89 893,235.47 894,236.16 895,236.95 896,237.84 897,238.83 898,239.9 899,241.06 900,242.29 901,243.59 902,244.95 903,246.37 904,247.85 905,249.36 906,250.92 907,252.51 908,254.13 909,255.77 910,257.43 911,259.1 912,260.77 913,262.45 914,264.14 915,265.81 916,267.48 917,269.14 918,270.79 919,272.42 920,274.03 921,275.61 922,277.18 923,278.72 924,280.23 925,281.71 926,283.16 927,284.58 928,285.97 929,287.32 930,288.64 931,289.93 932,291.17 933,292.39 934,293.56 935,294.7 936,295.81 937,296.87 938,297.9 939,298.9 940,299.86 941,300.78 942,301.67 943,302.52 944,303.35 945,304.13 946,304.89 947,305.61 948,306.31 949,306.97 950,307.6 951,308.21 952,308.79 953,309.34 954,309.87 955,310.37 956,310.85 957,311.31 958,311.74 959,312.16 960,312.55 961,312.93 962,313.28 963,313.62 964,313.94 965,314.25 966,314.54 967,314.82 968,315.08 969,315.33 970,315.57 971,315.8 972,316.02 973,316.22 974,316.42 975,316.61 976,316.79 977,316.96 978,317.12 979,317.28 980,317.43 981,317.57 982,317.71 983,317.84 984,317.96 985,318.09 986,318.2 987,318.31 988,318.42 989,318.53 990,318.63 991,318.73 992,318.82 993,318.91 994,319 995,319.09 996,319.17 997,319.25 998,319.33 999,319.4 1000,319.48 1001,319.55 1002,319.62 1003,319.69 1004,319.76 1005,319.82 1006,319.89 1007,319.95 1008,320.01 1009,320.07 1010,320.13 1011,320.19 1012,320.25 1013,320.3 1014,320.36 1015,320.41 1016,320.46 1017,320.51 1018,320.56 1019,320.61 1020,320.66 1021,320.71 1022,320.76 1023,320.81 1024,320.85" fill="none" stroke="#ec3a34" stroke-width="2.0" stroke-linejoin="round"/>
<polyline points="617,319 618,319.01 619,319.02 620,319.03 621,319.04 622,319.05 623,319.06 624,319.07 625,319.08 626,319.1 627,319.11 628,319.12 629,319.13 630,319.14 631,319.15 632,319.16 633,319.17 634,319.18 635,319.19 636,319.2 637,319.21 638,319.22 639,319.23 640,319.24 641,319.25 642,319.26 643,319.27 644,319.29 645,319.3 646,319.31 647,319.32 648,319.33 649,319.34 650,319.35 651,319.36 652,319.37 653,319.38 654,319.39 655,319.4 656,319.41 657,319.42 658,319.43 659,319.44 660,319.45 661,319.46 662,319.48 663,319.49 664,319.5 665,319.51 666,319.52 667,319.53 668,319.54 669,319.55 670,319.56 671,319.57 672,319.58 673,319.59 674,319.6 675,319.61 676,319.62 677,319.63 678,319.64 679,319.65 680,319.66 681,319.68 682,319.69 683,319.7 684,319.71 685,319.72 686,319.73 687,319.74 688,319.75 689,319.76 690,319.77 691,319.78 692,319.79 693,319.8 694,319.81 695,319.82 696,319.82 697,319.83 698,319.84 699,319.85 700,319.86 701,319.86 702,319.87 703,319.88 704,319.88 705,319.89 706,319.89 707,319.9 708,319.9 709,319.9 710,319.9 711,319.9 712,319.89 713,319.89 714,319.88 715,319.87 716,319.85 717,319.84 718,319.82 719,319.79 720,319.76 721,319.73 722,319.69 723,319.65 724,319.6 725,319.54 726,319.47 727,319.4 728,319.31 729,319.21 730,319.11 731,318.99 732,318.85 733,318.7 734,318.53 735,318.35 736,318.14 737,317.92 738,317.67 739,317.39 740,317.09 741,316.76 742,316.4 743,316 744,315.57 745,315.1 746,314.59 747,314.03 748,313.43 749,312.78 750,312.07 751,311.31 752,310.49 753,309.61 754,308.67 755,307.65 756,306.57 757,305.41 758,304.17 759,302.85 760,301.45 761,299.96 762,298.38 763,296.71 764,294.94 765,293.08 766,291.11 767,289.05 768,286.88 769,284.6 770,282.22 771,279.74 772,277.14 773,274.44 774,271.64 775,268.72 776,265.71 777,262.59 778,259.37 779,256.05 780,252.64 781,249.14 782,245.56 783,241.89 784,238.15 785,234.34 786,230.47 787,226.55 788,222.58 789,218.57 790,214.53 791,210.47 792,206.41 793,202.34 794,198.28 795,194.25 796,190.25 797,186.29 798,182.39 799,178.56 800,174.8 801,171.14 802,167.58 803,164.14 804,160.82 805,157.64 806,154.61 807,151.73 808,149.03 809,146.5 810,144.16 811,142.02 812,140.08 813,138.36 814,136.85 815,135.57 816,134.51 817,133.69 818,133.1 819,132.75 820,132.64 821,132.77 822,133.13 823,133.72 824,134.54 825,135.59 826,136.85 827,138.34 828,140.04 829,141.94 830,144.04 831,146.33 832,148.81 833,151.47 834,154.28 835,157.26 836,160.38 837,163.64 838,167.02 839,170.52 840,174.12 841,177.81 842,181.58 843,185.43 844,189.33 845,193.28 846,197.26 847,201.27 848,205.29 849,209.32 850,213.34 851,217.35 852,221.34 853,225.29 854,229.2 855,233.06 856,236.87 857,240.61 858,244.28 859,247.88 860,251.4 861,254.84 862,258.18 863,261.43 864,264.59 865,267.65 866,270.61 867,273.47 868,276.23 869,278.88 870,281.43 871,283.87 872,286.21 873,288.45 874,290.59 875,292.63 876,294.56 877,296.41 878,298.15 879,299.81 880,301.38 881,302.86 882,304.25 883,305.57 884,306.8 885,307.96 886,309.05 887,310.07 888,311.02 889,311.91 890,312.74 891,313.52 892,314.24 893,314.9 894,315.52 895,316.1 896,316.63 897,317.12 898,317.57 899,317.99 900,318.37 901,318.72 902,319.05 903,319.35 904,319.62 905,319.87 906,320.1 907,320.31 908,320.5 909,320.67 910,320.83 911,320.97 912,321.11 913,321.23 914,321.33 915,321.43 916,321.52 917,321.61 918,321.68 919,321.75 920,321.81 921,321.87 922,321.92 923,321.96 924,322.01 925,322.05 926,322.08 927,322.12 928,322.15 929,322.17 930,322.2 931,322.22 932,322.25 933,322.27 934,322.29 935,322.31 936,322.32 937,322.34 938,322.36 939,322.37 940,322.39 941,322.4 942,322.41 943,322.43 944,322.44 945,322.45 946,322.47 947,322.48 948,322.49 949,322.5 950,322.51 951,322.52 952,322.54 953,322.55 954,322.56 955,322.57 956,322.58 957,322.59 958,322.6 959,322.61 960,322.62 961,322.63 962,322.64 963,322.65 964,322.67 965,322.68 966,322.69 967,322.7 968,322.71 969,322.72 970,322.73 971,322.74 972,322.75 973,322.76 974,322.77 975,322.78 976,322.79 977,322.8 978,322.81 979,322.82 980,322.84 981,322.85 982,322.86 983,322.87 984,322.88 985,322.89 986,322.9 987,322.91 988,322.92 989,322.93 990,322.94 991,322.95 992,322.96 993,322.97 994,322.98 995,322.99 996,323 997,323.01 998,323.03 999,323.04 1000,323.05 1001,323.06 1002,323.07 1003,323.08 1004,323.09 1005,323.1 1006,323.11 1007,323.12 1008,323.13 1009,323.14 1010,323.15 1011,323.16 1012,323.17 1013,323.18 1014,323.19 1015,323.2 1016,323.22 1017,323.23 1018,323.24 1019,323.25 1020,323.26 1021,323.27 1022,323.28 1023,323.29 1024,323.3" fill="none" stroke="#4068c4" stroke-width="2.0" stroke-linejoin="round"/>
<polyline points="617,318.13 618,318.13 619,318.14 620,318.15 621,318.15 622,318.16 623,318.16 624,318.17 625,318.18 626,318.18 627,318.19 628,318.19 629,318.2 630,318.2 631,318.21 632,318.21 633,318.21 634,318.22 635,318.22 636,318.23 637,318.23 638,318.23 639,318.24 640,318.24 641,318.24 642,318.24 643,318.25 644,318.25 645,318.25 646,318.25 647,318.25 648,318.25 649,318.25 650,318.25 651,318.25 652,318.25 653,318.25 654,318.25 655,318.25 656,318.24 657,318.24 658,318.24 659,318.24 660,318.23 661,318.23 662,318.22 663,318.22 664,318.21 665,318.21 666,318.2 667,318.19 668,318.18 669,318.17 670,318.16 671,318.15 672,318.14 673,318.13 674,318.12 675,318.1 676,318.09 677,318.07 678,318.05 679,318.04 680,318.02 681,317.99 682,317.97 683,317.95 684,317.92 685,317.89 686,317.86 687,317.83 688,317.79 689,317.76 690,317.71 691,317.67 692,317.62 693,317.57 694,317.51 695,317.45 696,317.38 697,317.31 698,317.23 699,317.14 700,317.04 701,316.94 702,316.83 703,316.7 704,316.57 705,316.42 706,316.26 707,316.09 708,315.9 709,315.69 710,315.47 711,315.22 712,314.96 713,314.68 714,314.37 715,314.04 716,313.69 717,313.31 718,312.91 719,312.47 720,312.01 721,311.52 722,311 723,310.46 724,309.88 725,309.27 726,308.63 727,307.97 728,307.27 729,306.55 730,305.8 731,305.03 732,304.23 733,303.42 734,302.59 735,301.75 736,300.89 737,300.03 738,299.18 739,298.32 740,297.48 741,296.66 742,295.86 743,295.1 744,294.38 745,293.71 746,293.1 747,292.55 748,292.09 749,291.7 750,291.41 751,291.21 752,291.11 753,291.11 754,291.21 755,291.42 756,291.72 757,292.11 758,292.58 759,293.13 760,293.75 761,294.44 762,295.17 763,295.95 764,296.77 765,297.61 766,298.47 767,299.34 768,300.22 769,301.11 770,301.99 771,302.86 772,303.71 773,304.55 774,305.38 775,306.18 776,306.95 777,307.7 778,308.43 779,309.12 780,309.79 781,310.43 782,311.04 783,311.61 784,312.16 785,312.68 786,313.17 787,313.63 788,314.07 789,314.47 790,314.86 791,315.21 792,315.55 793,315.86 794,316.15 795,316.42 796,316.67 797,316.9 798,317.12 799,317.32 800,317.51 801,317.68 802,317.84 803,317.99 804,318.13 805,318.26 806,318.38 807,318.49 808,318.6 809,318.7 810,318.79 811,318.88 812,318.96 813,319.04 814,319.11 815,319.18 816,319.24 817,319.31 818,319.36 819,319.42 820,319.48 821,319.53 822,319.58 823,319.63 824,319.67 825,319.72 826,319.76 827,319.81 828,319.85 829,319.89 830,319.93 831,319.96 832,320 833,320.04 834,320.07 835,320.11 836,320.14 837,320.17 838,320.2 839,320.23 840,320.27 841,320.3 842,320.33 843,320.35 844,320.38 845,320.41 846,320.44 847,320.47 848,320.49 849,320.52 850,320.54 851,320.57 852,320.59 853,320.62 854,320.64 855,320.67 856,320.69 857,320.71 858,320.74 859,320.76 860,320.78 861,320.8 862,320.83 863,320.85 864,320.87 865,320.89 866,320.91 867,320.93 868,320.95 869,320.97 870,320.99 871,321.01 872,321.03 873,321.05 874,321.07 875,321.09 876,321.11 877,321.13 878,321.15 879,321.16 880,321.18 881,321.2 882,321.22 883,321.24 884,321.25 885,321.27 886,321.29 887,321.31 888,321.32 889,321.34 890,321.36 891,321.37 892,321.39 893,321.41 894,321.42 895,321.44 896,321.46 897,321.47 898,321.49 899,321.51 900,321.52 901,321.54 902,321.55 903,321.57 904,321.58 905,321.6 906,321.62 907,321.63 908,321.65 909,321.66 910,321.68 911,321.69 912,321.71 913,321.72 914,321.74 915,321.75 916,321.77 917,321.78 918,321.8 919,321.81 920,321.83 921,321.84 922,321.86 923,321.87 924,321.89 925,321.9 926,321.91 927,321.93 928,321.94 929,321.96 930,321.97 931,321.99 932,322 933,322.01 934,322.03 935,322.04 936,322.06 937,322.07 938,322.08 939,322.1 940,322.11 941,322.13 942,322.14 943,322.15 944,322.17 945,322.18 946,322.19 947,322.21 948,322.22 949,322.24 950,322.25 951,322.26 952,322.28 953,322.29 954,322.3 955,322.32 956,322.33 957,322.34 958,322.36 959,322.37 960,322.38 961,322.4 962,322.41 963,322.42 964,322.44 965,322.45 966,322.46 967,322.48 968,322.49 969,322.5 970,322.52 971,322.53 972,322.54 973,322.56 974,322.57 975,322.58 976,322.59 977,322.61 978,322.62 979,322.63 980,322.65 981,322.66 982,322.67 983,322.69 984,322.7 985,322.71 986,322.72 987,322.74 988,322.75 989,322.76 990,322.78 991,322.79 992,322.8 993,322.81 994,322.83 995,322.84 996,322.85 997,322.87 998,322.88 999,322.89 1000,322.9 1001,322.92 1002,322.93 1003,322.94 1004,322.95 1005,322.97 1006,322.98 1007,322.99 1008,323 1009,323.02 1010,323.03 1011,323.04 1012,323.05 1013,323.07 1014,323.08 1015,323.09 1016,323.11 1017,323.12 1018,323.13 1019,323.14 1020,323.16 1021,323.17 1022,323.18 1023,323.19 1024,323.21" fill="none" stroke="#16a74c" stroke-width="2.4" stroke-linejoin="round"/>
<polyline points="617,315.98 618,315.88 619,315.78 620,315.68 621,315.57 622,315.45 623,315.33 624,315.2 625,315.07 626,314.93 627,314.78 628,314.63 629,314.47 630,314.31 631,314.13 632,313.96 633,313.77 634,313.58 635,313.38 636,313.17 637,312.96 638,312.74 639,312.52 640,312.28 641,312.04 642,311.8 643,311.54 644,311.28 645,311.02 646,310.74 647,310.46 648,310.18 649,309.89 650,309.59 651,309.29 652,308.98 653,308.67 654,308.36 655,308.04 656,307.71 657,307.38 658,307.05 659,306.72 660,306.38 661,306.05 662,305.71 663,305.37 664,305.03 665,304.69 666,304.35 667,304.02 668,303.68 669,303.35 670,303.02 671,302.69 672,302.37 673,302.06 674,301.75 675,301.45 676,301.15 677,300.86 678,300.58 679,300.32 680,300.06 681,299.81 682,299.57 683,299.35 684,299.14 685,298.94 686,298.76 687,298.59 688,298.43 689,298.3 690,298.18 691,298.07 692,297.99 693,297.92 694,297.87 695,297.83 696,297.82 697,297.82 698,297.84 699,297.88 700,297.94 701,298.02 702,298.11 703,298.23 704,298.36 705,298.5 706,298.66 707,298.84 708,299.04 709,299.25 710,299.47 711,299.71 712,299.96 713,300.22 714,300.49 715,300.78 716,301.07 717,301.37 718,301.69 719,302.01 720,302.34 721,302.67 722,303.01 723,303.36 724,303.71 725,304.06 726,304.42 727,304.78 728,305.14 729,305.51 730,305.87 731,306.24 732,306.6 733,306.97 734,307.33 735,307.69 736,308.05 737,308.41 738,308.76 739,309.11 740,309.45 741,309.8 742,310.13 743,310.47 744,310.79 745,311.11 746,311.43 747,311.74 748,312.05 749,312.34 750,312.64 751,312.92 752,313.2 753,313.47 754,313.74 755,314 756,314.25 757,314.49 758,314.73 759,314.96 760,315.19 761,315.41 762,315.62 763,315.82 764,316.02 765,316.21 766,316.39 767,316.57 768,316.74 769,316.91 770,317.07 771,317.22 772,317.37 773,317.51 774,317.65 775,317.78 776,317.9 777,318.02 778,318.14 779,318.25 780,318.36 781,318.46 782,318.56 783,318.65 784,318.74 785,318.83 786,318.91 787,318.99 788,319.07 789,319.14 790,319.21 791,319.27 792,319.34 793,319.4 794,319.46 795,319.51 796,319.57 797,319.62 798,319.67 799,319.71 800,319.76 801,319.8 802,319.84 803,319.88 804,319.92 805,319.96 806,320 807,320.03 808,320.07 809,320.1 810,320.13 811,320.16 812,320.19 813,320.22 814,320.25 815,320.27 816,320.3 817,320.33 818,320.35 819,320.38 820,320.4 821,320.42 822,320.45 823,320.47 824,320.49 825,320.51 826,320.53 827,320.55 828,320.57 829,320.6 830,320.61 831,320.63 832,320.65 833,320.67 834,320.69 835,320.71 836,320.73 837,320.75 838,320.77 839,320.78 840,320.8 841,320.82 842,320.84 843,320.85 844,320.87 845,320.89 846,320.91 847,320.92 848,320.94 849,320.96 850,320.97 851,320.99 852,321.01 853,321.02 854,321.04 855,321.06 856,321.07 857,321.09 858,321.1 859,321.12 860,321.14 861,321.15 862,321.17 863,321.18 864,321.2 865,321.22 866,321.23 867,321.25 868,321.26 869,321.28 870,321.29 871,321.31 872,321.32 873,321.34 874,321.35 875,321.37 876,321.38 877,321.4 878,321.41 879,321.43 880,321.44 881,321.46 882,321.47 883,321.49 884,321.5 885,321.52 886,321.53 887,321.55 888,321.56 889,321.58 890,321.59 891,321.61 892,321.62 893,321.64 894,321.65 895,321.67 896,321.68 897,321.7 898,321.71 899,321.72 900,321.74 901,321.75 902,321.77 903,321.78 904,321.8 905,321.81 906,321.83 907,321.84 908,321.85 909,321.87 910,321.88 911,321.9 912,321.91 913,321.93 914,321.94 915,321.95 916,321.97 917,321.98 918,322 919,322.01 920,322.02 921,322.04 922,322.05 923,322.07 924,322.08 925,322.09 926,322.11 927,322.12 928,322.14 929,322.15 930,322.16 931,322.18 932,322.19 933,322.21 934,322.22 935,322.23 936,322.25 937,322.26 938,322.27 939,322.29 940,322.3 941,322.32 942,322.33 943,322.34 944,322.36 945,322.37 946,322.38 947,322.4 948,322.41 949,322.43 950,322.44 951,322.45 952,322.47 953,322.48 954,322.49 955,322.51 956,322.52 957,322.53 958,322.55 959,322.56 960,322.58 961,322.59 962,322.6 963,322.62 964,322.63 965,322.64 966,322.66 967,322.67 968,322.68 969,322.7 970,322.71 971,322.72 972,322.74 973,322.75 974,322.76 975,322.78 976,322.79 977,322.8 978,322.82 979,322.83 980,322.85 981,322.86 982,322.87 983,322.89 984,322.9 985,322.91 986,322.93 987,322.94 988,322.95 989,322.97 990,322.98 991,322.99 992,323.01 993,323.02 994,323.03 995,323.05 996,323.06 997,323.07 998,323.09 999,323.1 1000,323.11 1001,323.13 1002,323.14 1003,323.15 1004,323.17 1005,323.18 1006,323.19 1007,323.21 1008,323.22 1009,323.23 1010,323.25 1011,323.26 1012,323.27 1013,323.28 1014,323.3 1015,323.31 1016,323.32 1017,323.34 1018,323.35 1019,323.36 1020,323.38 1021,323.39 1022,323.4 1023,323.42 1024,323.43" fill="none" stroke="#f26a2c" stroke-width="2.4" stroke-linejoin="round"/>
<path d="M880.5 110.2H897.5" stroke="#111111" stroke-width="2.8"/><circle cx="889" cy="110.2" r="2.9" fill="#111111"/>
<text x="906.73" y="116.2" textLength="119.02" lengthAdjust="spacingAndGlyphs" font-size="16.5" fill="#1b1311" stroke="#1b1311" stroke-width="0.35" font-weight="bold">XPS Spectrum</text>
<path d="M903.2 132.1H919.9" stroke="#ec3a34" stroke-width="2.3"/>
<text x="930" y="136" font-size="15.5" fill="#1b1311" stroke="#1b1311" stroke-width="0.35" font-weight="bold">C<tspan dy="4.0" font-size="11.5">1</tspan></text>
<path d="M903.2 149.9H919.9" stroke="#4068c4" stroke-width="2.3"/>
<text x="930" y="153.8" font-size="15.5" fill="#1b1311" stroke="#1b1311" stroke-width="0.35" font-weight="bold">C<tspan dy="4.0" font-size="11.5">2</tspan></text>
<path d="M903.2 167.7H919.9" stroke="#16a74c" stroke-width="2.3"/>
<text x="930" y="171.6" font-size="15.5" fill="#1b1311" stroke="#1b1311" stroke-width="0.35" font-weight="bold">C<tspan dy="4.0" font-size="11.5">3</tspan></text>
<path d="M903.2 187.1H919.9" stroke="#f26a2c" stroke-width="2.3"/>
<text x="930" y="191" font-size="15.5" fill="#1b1311" stroke="#1b1311" stroke-width="0.35" font-weight="bold">C<tspan dy="4.0" font-size="11.5">4</tspan></text>
<text transform="translate(14.74 487.3) scale(0.9389 1)" font-size="54.8" fill="#1b1311" font-weight="bold">C</text>
<text x="179.43" y="494.5" textLength="231.84" lengthAdjust="spacingAndGlyphs" font-size="19" fill="#1b1311" stroke="#1b1311" stroke-width="0.35" font-weight="bold">Photoresist and Stripped</text>
<path d="M93.5 516V784.5" stroke="#111114" stroke-width="1.35" fill="none"/>
<path d="M88.5 784.5H499" stroke="#111114" stroke-width="1.35" fill="none"/>
<path d="M88.5 516H93.5M88.5 569.7H93.5M88.5 623.4H93.5M88.5 677.1H93.5M88.5 730.8H93.5M139 784.5V789.5M228.8 784.5V789.5M318.6 784.5V789.5M408.4 784.5V789.5M498.2 784.5V789.5" stroke="#111114" stroke-width="1.35" fill="none"/>
<text x="139" y="817.6" text-anchor="middle" textLength="30.5" lengthAdjust="spacingAndGlyphs" font-size="19" fill="#1b1311" stroke="#1b1311" stroke-width="0.35" font-weight="bold">290</text>
<text x="228.8" y="817.6" text-anchor="middle" textLength="30.5" lengthAdjust="spacingAndGlyphs" font-size="19" fill="#1b1311" stroke="#1b1311" stroke-width="0.35" font-weight="bold">288</text>
<text x="318.6" y="817.6" text-anchor="middle" textLength="30.5" lengthAdjust="spacingAndGlyphs" font-size="19" fill="#1b1311" stroke="#1b1311" stroke-width="0.35" font-weight="bold">286</text>
<text x="408.4" y="817.6" text-anchor="middle" textLength="30.5" lengthAdjust="spacingAndGlyphs" font-size="19" fill="#1b1311" stroke="#1b1311" stroke-width="0.35" font-weight="bold">284</text>
<text x="498.2" y="817.6" text-anchor="middle" textLength="30.5" lengthAdjust="spacingAndGlyphs" font-size="19" fill="#1b1311" stroke="#1b1311" stroke-width="0.35" font-weight="bold">282</text>
<text x="203.74" y="854.3" textLength="184.75" lengthAdjust="spacingAndGlyphs" font-size="18.8" fill="#1b1311" stroke="#1b1311" stroke-width="0.35" font-weight="bold">Binding Energy (eV)</text>
<text transform="translate(65 685) rotate(-90)" x="-1.16" y="0" textLength="73.59" lengthAdjust="spacingAndGlyphs" font-size="18" fill="#1b1311" stroke="#1b1311" stroke-width="0.35" font-weight="bold">Intensity</text>
<polyline points="94.1,779.71 98.59,775.71 103.08,773.87 107.57,773.75 112.06,780.02 116.55,780.66 121.04,779.48 125.53,779.23 130.02,773.31 134.51,773.49 139,773.37 143.49,778.66 147.98,771.73 152.47,770.73 156.96,770.3 161.45,769.93 165.94,769.23 170.43,766.23 174.92,774.62 179.41,775.49 183.9,768.18 188.39,773.25 192.88,768.57 197.37,766.3 201.86,764.51 206.35,768.17 210.84,766.24 215.33,764.14 219.82,759.27 224.31,751.45 228.8,749.95 233.29,745.77 237.78,738.33 242.27,733.8 246.76,727.39 251.25,718.29 255.74,695.05 260.23,680.8 264.72,670.83 269.21,634.18 273.7,627.6 278.19,588.92 282.68,584.15 287.17,543.18 291.66,559.16 296.15,544.6 300.64,555.65 305.13,564.84 309.62,558.21 314.11,584.16 318.6,610.6 323.09,644.14 327.58,667.61 332.07,684.74 336.56,690.72 341.05,704.23 345.54,701.91 350.03,703.13 354.52,709.36 359.01,702.45 363.5,699.32 367.99,692.35 372.48,697.46 376.97,707.16 381.46,699.38 385.95,723.29 390.44,718.74 394.93,736.22 399.42,744.16 403.91,748.85 408.4,759.31 412.89,764.12 417.38,772 421.87,772 426.36,773.34 430.85,774.97 435.34,773.88 439.83,774.98 444.32,775.36 448.81,773.54 453.3,775.65 457.79,775.98 462.28,773.92 466.77,775.57 471.26,779.33 475.75,776.6 480.24,778.05 484.73,779.42 489.22,777.49 493.71,775.17" fill="none" stroke="#111111" stroke-width="3.0" stroke-linejoin="round"/>
<g fill="#111111"><circle cx="94.1" cy="779.71" r="3.1"/><circle cx="98.59" cy="775.71" r="3.1"/><circle cx="103.08" cy="773.87" r="3.1"/><circle cx="107.57" cy="773.75" r="3.1"/><circle cx="112.06" cy="780.02" r="3.1"/><circle cx="116.55" cy="780.66" r="3.1"/><circle cx="121.04" cy="779.48" r="3.1"/><circle cx="125.53" cy="779.23" r="3.1"/><circle cx="130.02" cy="773.31" r="3.1"/><circle cx="134.51" cy="773.49" r="3.1"/><circle cx="139" cy="773.37" r="3.1"/><circle cx="143.49" cy="778.66" r="3.1"/><circle cx="147.98" cy="771.73" r="3.1"/><circle cx="152.47" cy="770.73" r="3.1"/><circle cx="156.96" cy="770.3" r="3.1"/><circle cx="161.45" cy="769.93" r="3.1"/><circle cx="165.94" cy="769.23" r="3.1"/><circle cx="170.43" cy="766.23" r="3.1"/><circle cx="174.92" cy="774.62" r="3.1"/><circle cx="179.41" cy="775.49" r="3.1"/><circle cx="183.9" cy="768.18" r="3.1"/><circle cx="188.39" cy="773.25" r="3.1"/><circle cx="192.88" cy="768.57" r="3.1"/><circle cx="197.37" cy="766.3" r="3.1"/><circle cx="201.86" cy="764.51" r="3.1"/><circle cx="206.35" cy="768.17" r="3.1"/><circle cx="210.84" cy="766.24" r="3.1"/><circle cx="215.33" cy="764.14" r="3.1"/><circle cx="219.82" cy="759.27" r="3.1"/><circle cx="224.31" cy="751.45" r="3.1"/><circle cx="228.8" cy="749.95" r="3.1"/><circle cx="233.29" cy="745.77" r="3.1"/><circle cx="237.78" cy="738.33" r="3.1"/><circle cx="242.27" cy="733.8" r="3.1"/><circle cx="246.76" cy="727.39" r="3.1"/><circle cx="251.25" cy="718.29" r="3.1"/><circle cx="255.74" cy="695.05" r="3.1"/><circle cx="260.23" cy="680.8" r="3.1"/><circle cx="264.72" cy="670.83" r="3.1"/><circle cx="269.21" cy="634.18" r="3.1"/><circle cx="273.7" cy="627.6" r="3.1"/><circle cx="278.19" cy="588.92" r="3.1"/><circle cx="282.68" cy="584.15" r="3.1"/><circle cx="287.17" cy="543.18" r="3.1"/><circle cx="291.66" cy="559.16" r="3.1"/><circle cx="296.15" cy="544.6" r="3.1"/><circle cx="300.64" cy="555.65" r="3.1"/><circle cx="305.13" cy="564.84" r="3.1"/><circle cx="309.62" cy="558.21" r="3.1"/><circle cx="314.11" cy="584.16" r="3.1"/><circle cx="318.6" cy="610.6" r="3.1"/><circle cx="323.09" cy="644.14" r="3.1"/><circle cx="327.58" cy="667.61" r="3.1"/><circle cx="332.07" cy="684.74" r="3.1"/><circle cx="336.56" cy="690.72" r="3.1"/><circle cx="341.05" cy="704.23" r="3.1"/><circle cx="345.54" cy="701.91" r="3.1"/><circle cx="350.03" cy="703.13" r="3.1"/><circle cx="354.52" cy="709.36" r="3.1"/><circle cx="359.01" cy="702.45" r="3.1"/><circle cx="363.5" cy="699.32" r="3.1"/><circle cx="367.99" cy="692.35" r="3.1"/><circle cx="372.48" cy="697.46" r="3.1"/><circle cx="376.97" cy="707.16" r="3.1"/><circle cx="381.46" cy="699.38" r="3.1"/><circle cx="385.95" cy="723.29" r="3.1"/><circle cx="390.44" cy="718.74" r="3.1"/><circle cx="394.93" cy="736.22" r="3.1"/><circle cx="399.42" cy="744.16" r="3.1"/><circle cx="403.91" cy="748.85" r="3.1"/><circle cx="408.4" cy="759.31" r="3.1"/><circle cx="412.89" cy="764.12" r="3.1"/><circle cx="417.38" cy="772" r="3.1"/><circle cx="421.87" cy="772" r="3.1"/><circle cx="426.36" cy="773.34" r="3.1"/><circle cx="430.85" cy="774.97" r="3.1"/><circle cx="435.34" cy="773.88" r="3.1"/><circle cx="439.83" cy="774.98" r="3.1"/><circle cx="444.32" cy="775.36" r="3.1"/><circle cx="448.81" cy="773.54" r="3.1"/><circle cx="453.3" cy="775.65" r="3.1"/><circle cx="457.79" cy="775.98" r="3.1"/><circle cx="462.28" cy="773.92" r="3.1"/><circle cx="466.77" cy="775.57" r="3.1"/><circle cx="471.26" cy="779.33" r="3.1"/><circle cx="475.75" cy="776.6" r="3.1"/><circle cx="480.24" cy="778.05" r="3.1"/><circle cx="484.73" cy="779.42" r="3.1"/><circle cx="489.22" cy="777.49" r="3.1"/><circle cx="493.71" cy="775.17" r="3.1"/></g>
<polyline points="94,773 95,773.01 96,773.01 97,773.02 98,773.03 99,773.04 100,773.04 101,773.05 102,773.06 103,773.07 104,773.07 105,773.08 106,773.09 107,773.1 108,773.1 109,773.11 110,773.12 111,773.13 112,773.13 113,773.14 114,773.15 115,773.16 116,773.16 117,773.17 118,773.18 119,773.19 120,773.19 121,773.2 122,773.21 123,773.22 124,773.22 125,773.23 126,773.24 127,773.25 128,773.25 129,773.26 130,773.27 131,773.27 132,773.28 133,773.29 134,773.3 135,773.3 136,773.31 137,773.32 138,773.33 139,773.33 140,773.34 141,773.35 142,773.36 143,773.36 144,773.37 145,773.38 146,773.39 147,773.39 148,773.4 149,773.41 150,773.42 151,773.42 152,773.43 153,773.44 154,773.45 155,773.45 156,773.46 157,773.47 158,773.48 159,773.48 160,773.49 161,773.5 162,773.5 163,773.51 164,773.52 165,773.53 166,773.53 167,773.54 168,773.55 169,773.56 170,773.56 171,773.57 172,773.58 173,773.59 174,773.59 175,773.6 176,773.61 177,773.62 178,773.62 179,773.63 180,773.64 181,773.65 182,773.65 183,773.66 184,773.67 185,773.68 186,773.68 187,773.69 188,773.7 189,773.71 190,773.71 191,773.72 192,773.73 193,773.74 194,773.74 195,773.75 196,773.76 197,773.76 198,773.77 199,773.78 200,773.79 201,773.79 202,773.8 203,773.81 204,773.82 205,773.82 206,773.83 207,773.84 208,773.85 209,773.85 210,773.86 211,773.87 212,773.88 213,773.88 214,773.89 215,773.9 216,773.91 217,773.91 218,773.92 219,773.93 220,773.94 221,773.94 222,773.95 223,773.96 224,773.97 225,773.97 226,773.98 227,773.99 228,773.99 229,774 230,774.01 231,774.02 232,774.02 233,774.03 234,774.04 235,774.05 236,774.05 237,774.06 238,774.07 239,774.08 240,774.08 241,774.09 242,774.1 243,774.1 244,774.11 245,774.12 246,774.12 247,774.13 248,774.14 249,774.14 250,774.15 251,774.16 252,774.16 253,774.17 254,774.17 255,774.18 256,774.18 257,774.19 258,774.19 259,774.19 260,774.19 261,774.2 262,774.2 263,774.2 264,774.19 265,774.19 266,774.19 267,774.18 268,774.17 269,774.16 270,774.15 271,774.14 272,774.12 273,774.1 274,774.07 275,774.04 276,774.01 277,773.98 278,773.93 279,773.88 280,773.83 281,773.77 282,773.7 283,773.62 284,773.53 285,773.44 286,773.33 287,773.21 288,773.08 289,772.93 290,772.77 291,772.6 292,772.4 293,772.19 294,771.96 295,771.71 296,771.44 297,771.14 298,770.81 299,770.47 300,770.09 301,769.68 302,769.24 303,768.77 304,768.27 305,767.73 306,767.15 307,766.54 308,765.89 309,765.19 310,764.45 311,763.67 312,762.85 313,761.98 314,761.06 315,760.1 316,759.1 317,758.04 318,756.94 319,755.79 320,754.59 321,753.35 322,752.07 323,750.74 324,749.37 325,747.95 326,746.5 327,745.01 328,743.49 329,741.94 330,740.36 331,738.75 332,737.12 333,735.47 334,733.81 335,732.15 336,730.47 337,728.8 338,727.13 339,725.47 340,723.83 341,722.21 342,720.61 343,719.05 344,717.52 345,716.04 346,714.6 347,713.22 348,711.9 349,710.64 350,709.45 351,708.33 352,707.29 353,706.34 354,705.47 355,704.69 356,704.01 357,703.42 358,702.93 359,702.54 360,702.25 361,702.07 362,701.99 363,702.02 364,702.15 365,702.37 366,702.69 367,703.11 368,703.62 369,704.23 370,704.92 371,705.7 372,706.57 373,707.52 374,708.54 375,709.64 376,710.8 377,712.04 378,713.33 379,714.67 380,716.07 381,717.52 382,719 383,720.53 384,722.08 385,723.66 386,725.26 387,726.87 388,728.5 389,730.13 390,731.77 391,733.41 392,735.03 393,736.65 394,738.25 395,739.84 396,741.4 397,742.94 398,744.45 399,745.93 400,747.38 401,748.79 402,750.17 403,751.51 404,752.8 405,754.06 406,755.28 407,756.45 408,757.58 409,758.66 410,759.7 411,760.69 412,761.65 413,762.56 414,763.42 415,764.24 416,765.03 417,765.77 418,766.47 419,767.13 420,767.75 421,768.34 422,768.9 423,769.42 424,769.9 425,770.36 426,770.78 427,771.18 428,771.55 429,771.89 430,772.21 431,772.51 432,772.79 433,773.04 434,773.28 435,773.49 436,773.69 437,773.88 438,774.05 439,774.2 440,774.34 441,774.47 442,774.59 443,774.7 444,774.8 445,774.89 446,774.98 447,775.05 448,775.12 449,775.19 450,775.24 451,775.3 452,775.34 453,775.39 454,775.43 455,775.46 456,775.5 457,775.53 458,775.55 459,775.58 460,775.6 461,775.63 462,775.65 463,775.66 464,775.68 465,775.7 466,775.71 467,775.73 468,775.74 469,775.75 470,775.76 471,775.77 472,775.79 473,775.8 474,775.81 475,775.82 476,775.83 477,775.83 478,775.84 479,775.85 480,775.86 481,775.87 482,775.88 483,775.88 484,775.89 485,775.9 486,775.91 487,775.92 488,775.92 489,775.93 490,775.94 491,775.95 492,775.95 493,775.96 494,775.97 495,775.98 496,775.98 497,775.99 498,776" fill="none" stroke="#ec3a34" stroke-width="2.0" stroke-linejoin="round"/>
<polyline points="94,773 95,773.01 96,773.01 97,773.02 98,773.03 99,773.04 100,773.04 101,773.05 102,773.06 103,773.07 104,773.07 105,773.08 106,773.09 107,773.1 108,773.1 109,773.11 110,773.12 111,773.13 112,773.13 113,773.14 114,773.15 115,773.16 116,773.16 117,773.17 118,773.18 119,773.19 120,773.19 121,773.2 122,773.21 123,773.22 124,773.22 125,773.23 126,773.24 127,773.25 128,773.25 129,773.26 130,773.27 131,773.27 132,773.28 133,773.29 134,773.3 135,773.3 136,773.31 137,773.32 138,773.33 139,773.33 140,773.34 141,773.35 142,773.36 143,773.36 144,773.37 145,773.38 146,773.39 147,773.39 148,773.4 149,773.41 150,773.42 151,773.42 152,773.43 153,773.44 154,773.45 155,773.45 156,773.46 157,773.47 158,773.48 159,773.48 160,773.49 161,773.5 162,773.5 163,773.51 164,773.52 165,773.53 166,773.53 167,773.54 168,773.55 169,773.56 170,773.56 171,773.57 172,773.58 173,773.59 174,773.59 175,773.6 176,773.61 177,773.61 178,773.62 179,773.63 180,773.64 181,773.64 182,773.65 183,773.66 184,773.66 185,773.67 186,773.67 187,773.68 188,773.69 189,773.69 190,773.69 191,773.7 192,773.7 193,773.7 194,773.71 195,773.71 196,773.7 197,773.7 198,773.7 199,773.69 200,773.68 201,773.67 202,773.66 203,773.64 204,773.62 205,773.6 206,773.57 207,773.53 208,773.49 209,773.44 210,773.39 211,773.32 212,773.24 213,773.16 214,773.05 215,772.94 216,772.81 217,772.66 218,772.49 219,772.29 220,772.08 221,771.83 222,771.56 223,771.25 224,770.9 225,770.52 226,770.09 227,769.62 228,769.09 229,768.51 230,767.87 231,767.16 232,766.38 233,765.53 234,764.6 235,763.58 236,762.47 237,761.26 238,759.94 239,758.52 240,756.98 241,755.32 242,753.54 243,751.62 244,749.56 245,747.36 246,745 247,742.5 248,739.83 249,737.01 250,734.01 251,730.85 252,727.52 253,724.02 254,720.35 255,716.5 256,712.49 257,708.3 258,703.95 259,699.44 260,694.78 261,689.97 262,685.02 263,679.94 264,674.73 265,669.42 266,664.02 267,658.53 268,652.97 269,647.37 270,641.73 271,636.07 272,630.42 273,624.8 274,619.22 275,613.7 276,608.27 277,602.95 278,597.76 279,592.73 280,587.86 281,583.2 282,578.75 283,574.54 284,570.58 285,566.9 286,563.52 287,560.45 288,557.7 289,555.29 290,553.23 291,551.53 292,550.2 293,549.25 294,548.68 295,548.49 296,548.71 297,549.37 298,550.44 299,551.93 300,553.84 301,556.14 302,558.83 303,561.89 304,565.31 305,569.07 306,573.14 307,577.5 308,582.14 309,587.02 310,592.13 311,597.44 312,602.92 313,608.55 314,614.29 315,620.14 316,626.05 317,632.01 318,638 319,643.98 320,649.93 321,655.85 322,661.69 323,667.46 324,673.12 325,678.67 326,684.09 327,689.37 328,694.49 329,699.45 330,704.24 331,708.85 332,713.28 333,717.52 334,721.57 335,725.43 336,729.09 337,732.57 338,735.85 339,738.95 340,741.87 341,744.61 342,747.18 343,749.57 344,751.81 345,753.89 346,755.81 347,757.6 348,759.25 349,760.77 350,762.17 351,763.45 352,764.62 353,765.7 354,766.68 355,767.57 356,768.38 357,769.11 358,769.77 359,770.37 360,770.91 361,771.39 362,771.82 363,772.21 364,772.56 365,772.87 366,773.15 367,773.39 368,773.61 369,773.8 370,773.97 371,774.13 372,774.26 373,774.38 374,774.48 375,774.57 376,774.65 377,774.72 378,774.79 379,774.84 380,774.89 381,774.93 382,774.97 383,775 384,775.03 385,775.06 386,775.08 387,775.1 388,775.12 389,775.14 390,775.16 391,775.17 392,775.18 393,775.2 394,775.21 395,775.22 396,775.23 397,775.24 398,775.25 399,775.26 400,775.27 401,775.27 402,775.28 403,775.29 404,775.3 405,775.31 406,775.31 407,775.32 408,775.33 409,775.34 410,775.35 411,775.35 412,775.36 413,775.37 414,775.38 415,775.38 416,775.39 417,775.4 418,775.41 419,775.41 420,775.42 421,775.43 422,775.44 423,775.44 424,775.45 425,775.46 426,775.47 427,775.47 428,775.48 429,775.49 430,775.5 431,775.5 432,775.51 433,775.52 434,775.52 435,775.53 436,775.54 437,775.55 438,775.55 439,775.56 440,775.57 441,775.58 442,775.58 443,775.59 444,775.6 445,775.61 446,775.61 447,775.62 448,775.63 449,775.64 450,775.64 451,775.65 452,775.66 453,775.67 454,775.67 455,775.68 456,775.69 457,775.7 458,775.7 459,775.71 460,775.72 461,775.73 462,775.73 463,775.74 464,775.75 465,775.75 466,775.76 467,775.77 468,775.78 469,775.78 470,775.79 471,775.8 472,775.81 473,775.81 474,775.82 475,775.83 476,775.84 477,775.84 478,775.85 479,775.86 480,775.87 481,775.87 482,775.88 483,775.89 484,775.9 485,775.9 486,775.91 487,775.92 488,775.93 489,775.93 490,775.94 491,775.95 492,775.96 493,775.96 494,775.97 495,775.98 496,775.99 497,775.99 498,776" fill="none" stroke="#4068c4" stroke-width="2.0" stroke-linejoin="round"/>
<polyline points="94,777.86 95,777.85 96,777.85 97,777.84 98,777.83 99,777.82 100,777.82 101,777.81 102,777.8 103,777.79 104,777.79 105,777.78 106,777.77 107,777.76 108,777.76 109,777.75 110,777.74 111,777.73 112,777.73 113,777.72 114,777.71 115,777.7 116,777.69 117,777.68 118,777.68 119,777.67 120,777.66 121,777.65 122,777.64 123,777.63 124,777.62 125,777.61 126,777.6 127,777.59 128,777.58 129,777.57 130,777.56 131,777.55 132,777.53 133,777.52 134,777.51 135,777.5 136,777.48 137,777.47 138,777.45 139,777.44 140,777.42 141,777.4 142,777.38 143,777.36 144,777.34 145,777.32 146,777.29 147,777.27 148,777.24 149,777.21 150,777.18 151,777.15 152,777.11 153,777.07 154,777.03 155,776.98 156,776.93 157,776.88 158,776.82 159,776.76 160,776.69 161,776.62 162,776.55 163,776.47 164,776.38 165,776.28 166,776.18 167,776.07 168,775.96 169,775.83 170,775.7 171,775.56 172,775.41 173,775.25 174,775.08 175,774.89 176,774.7 177,774.5 178,774.29 179,774.06 180,773.82 181,773.57 182,773.31 183,773.04 184,772.75 185,772.45 186,772.14 187,771.82 188,771.48 189,771.13 190,770.77 191,770.4 192,770.02 193,769.62 194,769.22 195,768.81 196,768.38 197,767.96 198,767.52 199,767.08 200,766.63 201,766.18 202,765.72 203,765.27 204,764.81 205,764.36 206,763.9 207,763.45 208,763.01 209,762.58 210,762.15 211,761.74 212,761.33 213,760.94 214,760.57 215,760.21 216,759.88 217,759.56 218,759.27 219,759 220,758.75 221,758.53 222,758.34 223,758.18 224,758.05 225,757.95 226,757.88 227,757.85 228,757.84 229,757.86 230,757.9 231,757.96 232,758.04 233,758.14 234,758.27 235,758.41 236,758.58 237,758.76 238,758.97 239,759.18 240,759.42 241,759.67 242,759.94 243,760.22 244,760.51 245,760.82 246,761.13 247,761.46 248,761.79 249,762.13 250,762.48 251,762.84 252,763.2 253,763.56 254,763.93 255,764.29 256,764.67 257,765.04 258,765.41 259,765.78 260,766.15 261,766.51 262,766.87 263,767.23 264,767.59 265,767.94 266,768.28 267,768.62 268,768.95 269,769.28 270,769.6 271,769.91 272,770.21 273,770.51 274,770.8 275,771.08 276,771.35 277,771.61 278,771.87 279,772.11 280,772.35 281,772.58 282,772.8 283,773.01 284,773.21 285,773.4 286,773.59 287,773.77 288,773.93 289,774.1 290,774.25 291,774.4 292,774.53 293,774.67 294,774.79 295,774.91 296,775.02 297,775.12 298,775.22 299,775.32 300,775.4 301,775.49 302,775.56 303,775.64 304,775.71 305,775.77 306,775.83 307,775.88 308,775.94 309,775.98 310,776.03 311,776.07 312,776.11 313,776.14 314,776.18 315,776.21 316,776.23 317,776.26 318,776.28 319,776.31 320,776.33 321,776.34 322,776.36 323,776.38 324,776.39 325,776.4 326,776.41 327,776.42 328,776.43 329,776.44 330,776.45 331,776.46 332,776.46 333,776.47 334,776.47 335,776.48 336,776.48 337,776.48 338,776.49 339,776.49 340,776.49 341,776.49 342,776.49 343,776.5 344,776.5 345,776.5 346,776.5 347,776.5 348,776.5 349,776.5 350,776.49 351,776.49 352,776.49 353,776.49 354,776.49 355,776.49 356,776.49 357,776.49 358,776.48 359,776.48 360,776.48 361,776.48 362,776.48 363,776.47 364,776.47 365,776.47 366,776.47 367,776.47 368,776.46 369,776.46 370,776.46 371,776.46 372,776.45 373,776.45 374,776.45 375,776.44 376,776.44 377,776.44 378,776.44 379,776.43 380,776.43 381,776.43 382,776.42 383,776.42 384,776.42 385,776.41 386,776.41 387,776.41 388,776.4 389,776.4 390,776.4 391,776.39 392,776.39 393,776.39 394,776.38 395,776.38 396,776.38 397,776.37 398,776.37 399,776.37 400,776.36 401,776.36 402,776.36 403,776.35 404,776.35 405,776.34 406,776.34 407,776.34 408,776.33 409,776.33 410,776.33 411,776.32 412,776.32 413,776.31 414,776.31 415,776.31 416,776.3 417,776.3 418,776.3 419,776.29 420,776.29 421,776.28 422,776.28 423,776.28 424,776.27 425,776.27 426,776.26 427,776.26 428,776.26 429,776.25 430,776.25 431,776.24 432,776.24 433,776.23 434,776.23 435,776.23 436,776.22 437,776.22 438,776.21 439,776.21 440,776.21 441,776.2 442,776.2 443,776.19 444,776.19 445,776.18 446,776.18 447,776.18 448,776.17 449,776.17 450,776.16 451,776.16 452,776.15 453,776.15 454,776.15 455,776.14 456,776.14 457,776.13 458,776.13 459,776.12 460,776.12 461,776.12 462,776.11 463,776.11 464,776.1 465,776.1 466,776.09 467,776.09 468,776.08 469,776.08 470,776.08 471,776.07 472,776.07 473,776.06 474,776.06 475,776.05 476,776.05 477,776.04 478,776.04 479,776.04 480,776.03 481,776.03 482,776.02 483,776.02 484,776.01 485,776.01 486,776 487,776 488,775.99 489,775.99 490,775.99 491,775.98 492,775.98 493,775.97 494,775.97 495,775.96 496,775.96 497,775.95 498,775.95" fill="none" stroke="#16a74c" stroke-width="2.4" stroke-linejoin="round"/>
<path d="M355.4 568.1H372.4" stroke="#111111" stroke-width="2.8"/><circle cx="363.9" cy="568.1" r="2.9" fill="#111111"/>
<text x="381.93" y="574" textLength="117.6" lengthAdjust="spacingAndGlyphs" font-size="16.5" fill="#1b1311" stroke="#1b1311" stroke-width="0.35" font-weight="bold">XPS Spectrum</text>
<path d="M377.6 588.5H395" stroke="#ec3a34" stroke-width="2.3"/>
<text x="404.8" y="592.4" font-size="15.5" fill="#1b1311" stroke="#1b1311" stroke-width="0.35" font-weight="bold">C<tspan dy="4.0" font-size="11.5">1</tspan></text>
<path d="M377.6 605.9H395" stroke="#4068c4" stroke-width="2.3"/>
<text x="404.8" y="609.8" font-size="15.5" fill="#1b1311" stroke="#1b1311" stroke-width="0.35" font-weight="bold">C<tspan dy="4.0" font-size="11.5">2</tspan></text>
<path d="M377.6 622.5H395" stroke="#16a74c" stroke-width="2.3"/>
<text x="404.8" y="626.4" font-size="15.5" fill="#1b1311" stroke="#1b1311" stroke-width="0.35" font-weight="bold">C<tspan dy="4.0" font-size="11.5">3</tspan></text>
<text transform="translate(524.03 490) scale(0.9548 1)" font-size="55.4" fill="#1b1311" font-weight="bold">D</text>
<text x="599.74" y="492.5" textLength="437.22" lengthAdjust="spacingAndGlyphs" font-size="19" fill="#1b1311" stroke="#1b1311" stroke-width="0.35" font-weight="bold">Photoresist, Exposed, Developed, and Stripped</text>
<path d="M617.5 514.6V778.5" stroke="#111114" stroke-width="1.35" fill="none"/>
<path d="M612.5 778.5H1021.2" stroke="#111114" stroke-width="1.35" fill="none"/>
<path d="M612.5 514.6H617.5M612.5 567.38H617.5M612.5 620.16H617.5M612.5 672.94H617.5M612.5 725.72H617.5M662.4 778.5V783.5M751.9 778.5V783.5M841.4 778.5V783.5M930.9 778.5V783.5M1020.4 778.5V783.5" stroke="#111114" stroke-width="1.35" fill="none"/>
<text x="662.4" y="811" text-anchor="middle" textLength="31.5" lengthAdjust="spacingAndGlyphs" font-size="19" fill="#1b1311" stroke="#1b1311" stroke-width="0.35" font-weight="bold">290</text>
<text x="751.9" y="811" text-anchor="middle" textLength="31.5" lengthAdjust="spacingAndGlyphs" font-size="19" fill="#1b1311" stroke="#1b1311" stroke-width="0.35" font-weight="bold">288</text>
<text x="841.4" y="811" text-anchor="middle" textLength="31.5" lengthAdjust="spacingAndGlyphs" font-size="19" fill="#1b1311" stroke="#1b1311" stroke-width="0.35" font-weight="bold">286</text>
<text x="930.9" y="811" text-anchor="middle" textLength="31.5" lengthAdjust="spacingAndGlyphs" font-size="19" fill="#1b1311" stroke="#1b1311" stroke-width="0.35" font-weight="bold">284</text>
<text x="1020.4" y="811" text-anchor="middle" textLength="31.5" lengthAdjust="spacingAndGlyphs" font-size="19" fill="#1b1311" stroke="#1b1311" stroke-width="0.35" font-weight="bold">282</text>
<text x="727.25" y="847" textLength="183.84" lengthAdjust="spacingAndGlyphs" font-size="18.8" fill="#1b1311" stroke="#1b1311" stroke-width="0.35" font-weight="bold">Binding Energy (eV)</text>
<text transform="translate(589.2 680) rotate(-90)" x="-1.16" y="0" textLength="73.49" lengthAdjust="spacingAndGlyphs" font-size="18" fill="#1b1311" stroke="#1b1311" stroke-width="0.35" font-weight="bold">Intensity</text>
<polyline points="617.65,769.46 622.13,769.36 626.6,769.25 631.08,769.14 635.55,769.02 640.02,768.9 644.5,768.79 648.97,768.69 653.45,768.6 657.92,768.49 662.4,768.35 666.88,768.16 671.35,767.9 675.83,767.19 680.3,766.25 684.77,765.5 689.25,764.9 693.72,764.35 698.2,763.9 702.67,763.58 707.15,763.28 711.63,762.78 716.1,761.39 720.58,760.6 725.05,760.6 729.52,760.36 734,757.91 738.47,755.37 742.95,753.29 747.42,748.36 751.9,743.54 756.38,739.98 760.85,737.98 765.33,734.08 769.8,722.48 774.27,721.02 778.75,704.33 783.22,692.85 787.7,673.17 792.17,654.92 796.65,628.48 801.13,608.93 805.6,577.72 810.08,562.95 814.55,545.15 819.02,537.82 823.5,532.84 827.97,548.78 832.45,557.73 836.92,575.72 841.4,602.7 845.88,635.01 850.35,654.65 854.83,674.31 859.3,688.2 863.77,700.4 868.25,699.62 872.72,700.47 877.2,697.71 881.67,695.83 886.15,695.04 890.63,697.78 895.1,692.2 899.58,697.1 904.05,709.83 908.52,713.77 913,721.91 917.47,728.72 921.95,738.57 926.42,746.18 930.9,751.87 935.38,757.77 939.85,762.79 944.33,764.71 948.8,766.93 953.27,768.58 957.75,769.48 962.22,769.84 966.7,770.25 971.17,770.67 975.65,769.94 980.13,768.7 984.6,770.15 989.08,771.28 993.55,770.86 998.02,771.01 1002.5,772.96 1006.97,772.78 1011.45,771.36 1015.92,771.39 1020.4,772.04" fill="none" stroke="#111111" stroke-width="3.0" stroke-linejoin="round"/>
<g fill="#111111"><circle cx="617.65" cy="769.46" r="3.1"/><circle cx="622.13" cy="769.36" r="3.1"/><circle cx="626.6" cy="769.25" r="3.1"/><circle cx="631.08" cy="769.14" r="3.1"/><circle cx="635.55" cy="769.02" r="3.1"/><circle cx="640.02" cy="768.9" r="3.1"/><circle cx="644.5" cy="768.79" r="3.1"/><circle cx="648.97" cy="768.69" r="3.1"/><circle cx="653.45" cy="768.6" r="3.1"/><circle cx="657.92" cy="768.49" r="3.1"/><circle cx="662.4" cy="768.35" r="3.1"/><circle cx="666.88" cy="768.16" r="3.1"/><circle cx="671.35" cy="767.9" r="3.1"/><circle cx="675.83" cy="767.19" r="3.1"/><circle cx="680.3" cy="766.25" r="3.1"/><circle cx="684.77" cy="765.5" r="3.1"/><circle cx="689.25" cy="764.9" r="3.1"/><circle cx="693.72" cy="764.35" r="3.1"/><circle cx="698.2" cy="763.9" r="3.1"/><circle cx="702.67" cy="763.58" r="3.1"/><circle cx="707.15" cy="763.28" r="3.1"/><circle cx="711.63" cy="762.78" r="3.1"/><circle cx="716.1" cy="761.39" r="3.1"/><circle cx="720.58" cy="760.6" r="3.1"/><circle cx="725.05" cy="760.6" r="3.1"/><circle cx="729.52" cy="760.36" r="3.1"/><circle cx="734" cy="757.91" r="3.1"/><circle cx="738.47" cy="755.37" r="3.1"/><circle cx="742.95" cy="753.29" r="3.1"/><circle cx="747.42" cy="748.36" r="3.1"/><circle cx="751.9" cy="743.54" r="3.1"/><circle cx="756.38" cy="739.98" r="3.1"/><circle cx="760.85" cy="737.98" r="3.1"/><circle cx="765.33" cy="734.08" r="3.1"/><circle cx="769.8" cy="722.48" r="3.1"/><circle cx="774.27" cy="721.02" r="3.1"/><circle cx="778.75" cy="704.33" r="3.1"/><circle cx="783.22" cy="692.85" r="3.1"/><circle cx="787.7" cy="673.17" r="3.1"/><circle cx="792.17" cy="654.92" r="3.1"/><circle cx="796.65" cy="628.48" r="3.1"/><circle cx="801.13" cy="608.93" r="3.1"/><circle cx="805.6" cy="577.72" r="3.1"/><circle cx="810.08" cy="562.95" r="3.1"/><circle cx="814.55" cy="545.15" r="3.1"/><circle cx="819.02" cy="537.82" r="3.1"/><circle cx="823.5" cy="532.84" r="3.1"/><circle cx="827.97" cy="548.78" r="3.1"/><circle cx="832.45" cy="557.73" r="3.1"/><circle cx="836.92" cy="575.72" r="3.1"/><circle cx="841.4" cy="602.7" r="3.1"/><circle cx="845.88" cy="635.01" r="3.1"/><circle cx="850.35" cy="654.65" r="3.1"/><circle cx="854.83" cy="674.31" r="3.1"/><circle cx="859.3" cy="688.2" r="3.1"/><circle cx="863.77" cy="700.4" r="3.1"/><circle cx="868.25" cy="699.62" r="3.1"/><circle cx="872.72" cy="700.47" r="3.1"/><circle cx="877.2" cy="697.71" r="3.1"/><circle cx="881.67" cy="695.83" r="3.1"/><circle cx="886.15" cy="695.04" r="3.1"/><circle cx="890.63" cy="697.78" r="3.1"/><circle cx="895.1" cy="692.2" r="3.1"/><circle cx="899.58" cy="697.1" r="3.1"/><circle cx="904.05" cy="709.83" r="3.1"/><circle cx="908.52" cy="713.77" r="3.1"/><circle cx="913" cy="721.91" r="3.1"/><circle cx="917.47" cy="728.72" r="3.1"/><circle cx="921.95" cy="738.57" r="3.1"/><circle cx="926.42" cy="746.18" r="3.1"/><circle cx="930.9" cy="751.87" r="3.1"/><circle cx="935.38" cy="757.77" r="3.1"/><circle cx="939.85" cy="762.79" r="3.1"/><circle cx="944.33" cy="764.71" r="3.1"/><circle cx="948.8" cy="766.93" r="3.1"/><circle cx="953.27" cy="768.58" r="3.1"/><circle cx="957.75" cy="769.48" r="3.1"/><circle cx="962.22" cy="769.84" r="3.1"/><circle cx="966.7" cy="770.25" r="3.1"/><circle cx="971.17" cy="770.67" r="3.1"/><circle cx="975.65" cy="769.94" r="3.1"/><circle cx="980.13" cy="768.7" r="3.1"/><circle cx="984.6" cy="770.15" r="3.1"/><circle cx="989.08" cy="771.28" r="3.1"/><circle cx="993.55" cy="770.86" r="3.1"/><circle cx="998.02" cy="771.01" r="3.1"/><circle cx="1002.5" cy="772.96" r="3.1"/><circle cx="1006.97" cy="772.78" r="3.1"/><circle cx="1011.45" cy="771.36" r="3.1"/><circle cx="1015.92" cy="771.39" r="3.1"/><circle cx="1020.4" cy="772.04" r="3.1"/></g>
<polyline points="618,770 619,770 620,770.01 621,770.01 622,770.01 623,770.02 624,770.02 625,770.03 626,770.03 627,770.03 628,770.04 629,770.04 630,770.04 631,770.05 632,770.05 633,770.06 634,770.06 635,770.06 636,770.07 637,770.07 638,770.07 639,770.08 640,770.08 641,770.09 642,770.09 643,770.09 644,770.1 645,770.1 646,770.1 647,770.11 648,770.11 649,770.12 650,770.12 651,770.12 652,770.13 653,770.13 654,770.13 655,770.14 656,770.14 657,770.15 658,770.15 659,770.15 660,770.16 661,770.16 662,770.16 663,770.17 664,770.17 665,770.18 666,770.18 667,770.18 668,770.19 669,770.19 670,770.19 671,770.2 672,770.2 673,770.21 674,770.21 675,770.21 676,770.22 677,770.22 678,770.22 679,770.23 680,770.23 681,770.24 682,770.24 683,770.24 684,770.25 685,770.25 686,770.25 687,770.26 688,770.26 689,770.26 690,770.27 691,770.27 692,770.28 693,770.28 694,770.28 695,770.29 696,770.29 697,770.29 698,770.3 699,770.3 700,770.31 701,770.31 702,770.31 703,770.32 704,770.32 705,770.32 706,770.33 707,770.33 708,770.34 709,770.34 710,770.34 711,770.35 712,770.35 713,770.35 714,770.36 715,770.36 716,770.37 717,770.37 718,770.37 719,770.38 720,770.38 721,770.38 722,770.39 723,770.39 724,770.4 725,770.4 726,770.4 727,770.41 728,770.41 729,770.41 730,770.42 731,770.42 732,770.43 733,770.43 734,770.43 735,770.44 736,770.44 737,770.44 738,770.45 739,770.45 740,770.46 741,770.46 742,770.46 743,770.47 744,770.47 745,770.47 746,770.48 747,770.48 748,770.48 749,770.49 750,770.49 751,770.5 752,770.5 753,770.5 754,770.51 755,770.51 756,770.51 757,770.52 758,770.52 759,770.52 760,770.53 761,770.53 762,770.54 763,770.54 764,770.54 765,770.55 766,770.55 767,770.55 768,770.55 769,770.56 770,770.56 771,770.56 772,770.56 773,770.57 774,770.57 775,770.57 776,770.57 777,770.57 778,770.57 779,770.57 780,770.57 781,770.57 782,770.57 783,770.57 784,770.56 785,770.56 786,770.55 787,770.54 788,770.53 789,770.52 790,770.51 791,770.5 792,770.48 793,770.46 794,770.44 795,770.41 796,770.39 797,770.35 798,770.32 799,770.28 800,770.23 801,770.18 802,770.12 803,770.06 804,769.99 805,769.91 806,769.82 807,769.72 808,769.61 809,769.49 810,769.36 811,769.22 812,769.07 813,768.89 814,768.71 815,768.5 816,768.28 817,768.04 818,767.78 819,767.5 820,767.2 821,766.87 822,766.51 823,766.13 824,765.72 825,765.28 826,764.82 827,764.32 828,763.78 829,763.21 830,762.61 831,761.97 832,761.29 833,760.57 834,759.82 835,759.02 836,758.18 837,757.3 838,756.37 839,755.41 840,754.4 841,753.35 842,752.25 843,751.12 844,749.94 845,748.72 846,747.46 847,746.16 848,744.83 849,743.46 850,742.05 851,740.62 852,739.15 853,737.66 854,736.15 855,734.61 856,733.06 857,731.5 858,729.92 859,728.35 860,726.76 861,725.19 862,723.62 863,722.06 864,720.52 865,719 866,717.5 867,716.04 868,714.62 869,713.23 870,711.89 871,710.6 872,709.37 873,708.19 874,707.08 875,706.04 876,705.07 877,704.17 878,703.36 879,702.63 880,701.98 881,701.42 882,700.95 883,700.58 884,700.29 885,700.1 886,700.01 887,700.02 888,700.13 889,700.35 890,700.68 891,701.12 892,701.66 893,702.3 894,703.04 895,703.88 896,704.8 897,705.82 898,706.92 899,708.1 900,709.35 901,710.67 902,712.05 903,713.49 904,714.99 905,716.52 906,718.1 907,719.71 908,721.35 909,723.01 910,724.69 911,726.37 912,728.07 913,729.76 914,731.45 915,733.13 916,734.79 917,736.43 918,738.05 919,739.65 920,741.21 921,742.74 922,744.24 923,745.69 924,747.1 925,748.47 926,749.8 927,751.08 928,752.31 929,753.5 930,754.63 931,755.72 932,756.76 933,757.75 934,758.69 935,759.58 936,760.43 937,761.23 938,761.99 939,762.7 940,763.37 941,764 942,764.59 943,765.14 944,765.65 945,766.13 946,766.58 947,766.99 948,767.37 949,767.73 950,768.06 951,768.36 952,768.64 953,768.89 954,769.13 955,769.34 956,769.54 957,769.72 958,769.88 959,770.03 960,770.17 961,770.29 962,770.4 963,770.5 964,770.6 965,770.68 966,770.75 967,770.82 968,770.88 969,770.93 970,770.98 971,771.03 972,771.07 973,771.1 974,771.13 975,771.16 976,771.19 977,771.21 978,771.23 979,771.25 980,771.27 981,771.28 982,771.3 983,771.31 984,771.32 985,771.33 986,771.34 987,771.35 988,771.36 989,771.36 990,771.37 991,771.38 992,771.38 993,771.39 994,771.39 995,771.4 996,771.4 997,771.41 998,771.41 999,771.42 1000,771.42 1001,771.43 1002,771.43 1003,771.43 1004,771.44 1005,771.44 1006,771.45 1007,771.45 1008,771.45 1009,771.46 1010,771.46 1011,771.47 1012,771.47 1013,771.47 1014,771.48 1015,771.48 1016,771.48 1017,771.49 1018,771.49 1019,771.5 1020,771.5" fill="none" stroke="#ec3a34" stroke-width="2.0" stroke-linejoin="round"/>
<polyline points="618,769.5 619,769.5 620,769.51 621,769.51 622,769.51 623,769.52 624,769.52 625,769.53 626,769.53 627,769.53 628,769.54 629,769.54 630,769.54 631,769.55 632,769.55 633,769.56 634,769.56 635,769.56 636,769.57 637,769.57 638,769.57 639,769.58 640,769.58 641,769.59 642,769.59 643,769.59 644,769.6 645,769.6 646,769.6 647,769.61 648,769.61 649,769.62 650,769.62 651,769.62 652,769.63 653,769.63 654,769.63 655,769.64 656,769.64 657,769.65 658,769.65 659,769.65 660,769.66 661,769.66 662,769.66 663,769.67 664,769.67 665,769.68 666,769.68 667,769.68 668,769.69 669,769.69 670,769.69 671,769.7 672,769.7 673,769.71 674,769.71 675,769.71 676,769.72 677,769.72 678,769.72 679,769.73 680,769.73 681,769.74 682,769.74 683,769.74 684,769.75 685,769.75 686,769.75 687,769.76 688,769.76 689,769.76 690,769.77 691,769.77 692,769.78 693,769.78 694,769.78 695,769.79 696,769.79 697,769.79 698,769.8 699,769.8 700,769.81 701,769.81 702,769.81 703,769.82 704,769.82 705,769.82 706,769.83 707,769.83 708,769.83 709,769.84 710,769.84 711,769.84 712,769.85 713,769.85 714,769.85 715,769.85 716,769.86 717,769.86 718,769.86 719,769.86 720,769.86 721,769.86 722,769.86 723,769.86 724,769.86 725,769.85 726,769.85 727,769.84 728,769.83 729,769.82 730,769.81 731,769.79 732,769.77 733,769.74 734,769.71 735,769.68 736,769.64 737,769.59 738,769.53 739,769.47 740,769.39 741,769.31 742,769.21 743,769.09 744,768.96 745,768.81 746,768.63 747,768.44 748,768.22 749,767.96 750,767.68 751,767.36 752,767 753,766.59 754,766.14 755,765.64 756,765.07 757,764.45 758,763.76 759,762.99 760,762.14 761,761.21 762,760.18 763,759.06 764,757.83 765,756.49 766,755.02 767,753.43 768,751.71 769,749.84 770,747.83 771,745.66 772,743.33 773,740.84 774,738.17 775,735.32 776,732.29 777,729.07 778,725.66 779,722.06 780,718.27 781,714.29 782,710.11 783,705.74 784,701.18 785,696.44 786,691.52 787,686.43 788,681.18 789,675.79 790,670.25 791,664.59 792,658.82 793,652.96 794,647.02 795,641.03 796,635.01 797,628.97 798,622.94 799,616.94 800,611.01 801,605.15 802,599.41 803,593.8 804,588.36 805,583.1 806,578.06 807,573.25 808,568.71 809,564.45 810,560.51 811,556.89 812,553.62 813,550.73 814,548.21 815,546.09 816,544.38 817,543.1 818,542.23 819,541.8 820,541.81 821,542.25 822,543.12 823,544.41 824,546.13 825,548.25 826,550.77 827,553.68 828,556.95 829,560.58 830,564.53 831,568.79 832,573.34 833,578.16 834,583.21 835,588.47 836,593.93 837,599.54 838,605.29 839,611.15 840,617.1 841,623.1 842,629.13 843,635.18 844,641.21 845,647.21 846,653.16 847,659.03 848,664.8 849,670.47 850,676.01 851,681.42 852,686.67 853,691.77 854,696.69 855,701.44 856,706.01 857,710.39 858,714.57 859,718.57 860,722.37 861,725.97 862,729.39 863,732.61 864,735.65 865,738.51 866,741.18 867,743.69 868,746.02 869,748.2 870,750.22 871,752.09 872,753.82 873,755.42 874,756.89 875,758.24 876,759.48 877,760.61 878,761.65 879,762.59 880,763.44 881,764.21 882,764.92 883,765.55 884,766.12 885,766.63 886,767.09 887,767.5 888,767.87 889,768.2 890,768.49 891,768.75 892,768.98 893,769.18 894,769.36 895,769.52 896,769.66 897,769.78 898,769.89 899,769.99 900,770.07 901,770.14 902,770.21 903,770.26 904,770.31 905,770.35 906,770.39 907,770.42 908,770.45 909,770.47 910,770.49 911,770.51 912,770.53 913,770.54 914,770.56 915,770.57 916,770.58 917,770.59 918,770.6 919,770.6 920,770.61 921,770.62 922,770.62 923,770.63 924,770.63 925,770.64 926,770.64 927,770.65 928,770.65 929,770.66 930,770.66 931,770.67 932,770.67 933,770.67 934,770.68 935,770.68 936,770.69 937,770.69 938,770.69 939,770.7 940,770.7 941,770.71 942,770.71 943,770.71 944,770.72 945,770.72 946,770.72 947,770.73 948,770.73 949,770.74 950,770.74 951,770.74 952,770.75 953,770.75 954,770.75 955,770.76 956,770.76 957,770.76 958,770.77 959,770.77 960,770.78 961,770.78 962,770.78 963,770.79 964,770.79 965,770.79 966,770.8 967,770.8 968,770.81 969,770.81 970,770.81 971,770.82 972,770.82 973,770.82 974,770.83 975,770.83 976,770.84 977,770.84 978,770.84 979,770.85 980,770.85 981,770.85 982,770.86 983,770.86 984,770.87 985,770.87 986,770.87 987,770.88 988,770.88 989,770.88 990,770.89 991,770.89 992,770.9 993,770.9 994,770.9 995,770.91 996,770.91 997,770.91 998,770.92 999,770.92 1000,770.93 1001,770.93 1002,770.93 1003,770.94 1004,770.94 1005,770.94 1006,770.95 1007,770.95 1008,770.96 1009,770.96 1010,770.96 1011,770.97 1012,770.97 1013,770.97 1014,770.98 1015,770.98 1016,770.99 1017,770.99 1018,770.99 1019,771 1020,771" fill="none" stroke="#4068c4" stroke-width="2.0" stroke-linejoin="round"/>
<polyline points="618,769.31 619,769.31 620,769.31 621,769.32 622,769.32 623,769.32 624,769.32 625,769.32 626,769.33 627,769.33 628,769.33 629,769.33 630,769.33 631,769.33 632,769.33 633,769.33 634,769.34 635,769.34 636,769.34 637,769.34 638,769.34 639,769.34 640,769.34 641,769.34 642,769.34 643,769.34 644,769.34 645,769.34 646,769.34 647,769.34 648,769.34 649,769.34 650,769.34 651,769.34 652,769.33 653,769.33 654,769.33 655,769.33 656,769.33 657,769.33 658,769.32 659,769.32 660,769.32 661,769.31 662,769.31 663,769.31 664,769.3 665,769.3 666,769.29 667,769.28 668,769.28 669,769.27 670,769.26 671,769.26 672,769.25 673,769.24 674,769.23 675,769.22 676,769.2 677,769.19 678,769.17 679,769.16 680,769.14 681,769.12 682,769.09 683,769.07 684,769.04 685,769.01 686,768.98 687,768.94 688,768.9 689,768.86 690,768.81 691,768.75 692,768.69 693,768.63 694,768.55 695,768.47 696,768.39 697,768.29 698,768.18 699,768.07 700,767.94 701,767.81 702,767.66 703,767.5 704,767.33 705,767.14 706,766.93 707,766.72 708,766.48 709,766.23 710,765.96 711,765.67 712,765.37 713,765.04 714,764.7 715,764.34 716,763.95 717,763.55 718,763.12 719,762.68 720,762.22 721,761.74 722,761.24 723,760.72 724,760.19 725,759.64 726,759.08 727,758.5 728,757.91 729,757.32 730,756.72 731,756.11 732,755.5 733,754.89 734,754.29 735,753.69 736,753.1 737,752.52 738,751.96 739,751.41 740,750.89 741,750.4 742,749.93 743,749.5 744,749.11 745,748.76 746,748.45 747,748.19 748,747.98 749,747.82 750,747.72 751,747.67 752,747.68 753,747.76 754,747.92 755,748.16 756,748.46 757,748.84 758,749.27 759,749.77 760,750.31 761,750.9 762,751.53 763,752.19 764,752.87 765,753.58 766,754.3 767,755.03 768,755.77 769,756.5 770,757.23 771,757.96 772,758.67 773,759.36 774,760.04 775,760.7 776,761.33 777,761.95 778,762.53 779,763.09 780,763.62 781,764.12 782,764.6 783,765.04 784,765.46 785,765.85 786,766.22 787,766.55 788,766.87 789,767.16 790,767.42 791,767.67 792,767.89 793,768.1 794,768.28 795,768.46 796,768.61 797,768.75 798,768.88 799,768.99 800,769.1 801,769.19 802,769.28 803,769.36 804,769.43 805,769.49 806,769.55 807,769.6 808,769.65 809,769.69 810,769.74 811,769.77 812,769.81 813,769.84 814,769.87 815,769.9 816,769.92 817,769.95 818,769.97 819,769.99 820,770.01 821,770.03 822,770.05 823,770.07 824,770.09 825,770.1 826,770.12 827,770.13 828,770.15 829,770.16 830,770.18 831,770.19 832,770.21 833,770.22 834,770.23 835,770.24 836,770.26 837,770.27 838,770.28 839,770.29 840,770.3 841,770.32 842,770.33 843,770.34 844,770.35 845,770.36 846,770.37 847,770.38 848,770.39 849,770.4 850,770.41 851,770.42 852,770.43 853,770.44 854,770.45 855,770.46 856,770.47 857,770.47 858,770.48 859,770.49 860,770.5 861,770.51 862,770.52 863,770.53 864,770.53 865,770.54 866,770.55 867,770.56 868,770.57 869,770.57 870,770.58 871,770.59 872,770.6 873,770.61 874,770.61 875,770.62 876,770.63 877,770.64 878,770.64 879,770.65 880,770.66 881,770.66 882,770.67 883,770.68 884,770.69 885,770.69 886,770.7 887,770.71 888,770.71 889,770.72 890,770.73 891,770.73 892,770.74 893,770.75 894,770.75 895,770.76 896,770.77 897,770.77 898,770.78 899,770.79 900,770.79 901,770.8 902,770.81 903,770.81 904,770.82 905,770.82 906,770.83 907,770.84 908,770.84 909,770.85 910,770.86 911,770.86 912,770.87 913,770.87 914,770.88 915,770.89 916,770.89 917,770.9 918,770.9 919,770.91 920,770.92 921,770.92 922,770.93 923,770.93 924,770.94 925,770.95 926,770.95 927,770.96 928,770.96 929,770.97 930,770.98 931,770.98 932,770.99 933,770.99 934,771 935,771 936,771.01 937,771.02 938,771.02 939,771.03 940,771.03 941,771.04 942,771.04 943,771.05 944,771.06 945,771.06 946,771.07 947,771.07 948,771.08 949,771.08 950,771.09 951,771.1 952,771.1 953,771.11 954,771.11 955,771.12 956,771.12 957,771.13 958,771.13 959,771.14 960,771.15 961,771.15 962,771.16 963,771.16 964,771.17 965,771.17 966,771.18 967,771.18 968,771.19 969,771.19 970,771.2 971,771.21 972,771.21 973,771.22 974,771.22 975,771.23 976,771.23 977,771.24 978,771.24 979,771.25 980,771.25 981,771.26 982,771.26 983,771.27 984,771.28 985,771.28 986,771.29 987,771.29 988,771.3 989,771.3 990,771.31 991,771.31 992,771.32 993,771.32 994,771.33 995,771.33 996,771.34 997,771.34 998,771.35 999,771.36 1000,771.36 1001,771.37 1002,771.37 1003,771.38 1004,771.38 1005,771.39 1006,771.39 1007,771.4 1008,771.4 1009,771.41 1010,771.41 1011,771.42 1012,771.42 1013,771.43 1014,771.43 1015,771.44 1016,771.44 1017,771.45 1018,771.46 1019,771.46 1020,771.47" fill="none" stroke="#16a74c" stroke-width="2.4" stroke-linejoin="round"/>
<path d="M878.4 565.2H895.6" stroke="#111111" stroke-width="2.8"/><circle cx="887" cy="565.2" r="2.9" fill="#111111"/>
<text x="905.13" y="570.9" textLength="116.59" lengthAdjust="spacingAndGlyphs" font-size="16.5" fill="#1b1311" stroke="#1b1311" stroke-width="0.35" font-weight="bold">XPS Spectrum</text>
<path d="M900.8 585.5H917.8" stroke="#ec3a34" stroke-width="2.3"/>
<text x="927.5" y="589.4" font-size="15.5" fill="#1b1311" stroke="#1b1311" stroke-width="0.35" font-weight="bold">C<tspan dy="4.0" font-size="11.5">1</tspan></text>
<path d="M900.8 602H917.8" stroke="#4068c4" stroke-width="2.3"/>
<text x="927.5" y="605.9" font-size="15.5" fill="#1b1311" stroke="#1b1311" stroke-width="0.35" font-weight="bold">C<tspan dy="4.0" font-size="11.5">2</tspan></text>
<path d="M900.8 619.2H917.8" stroke="#16a74c" stroke-width="2.3"/>
<text x="927.5" y="623.1" font-size="15.5" fill="#1b1311" stroke="#1b1311" stroke-width="0.35" font-weight="bold">C<tspan dy="4.0" font-size="11.5">3</tspan></text>
<polygon points="651,238.5 654.8,238.4 658.9,256.2 668.7,254.3 662.3,279.6 645.8,259.6 654.4,257.3" fill="#1b1311"/>
</svg>
</body></html>
